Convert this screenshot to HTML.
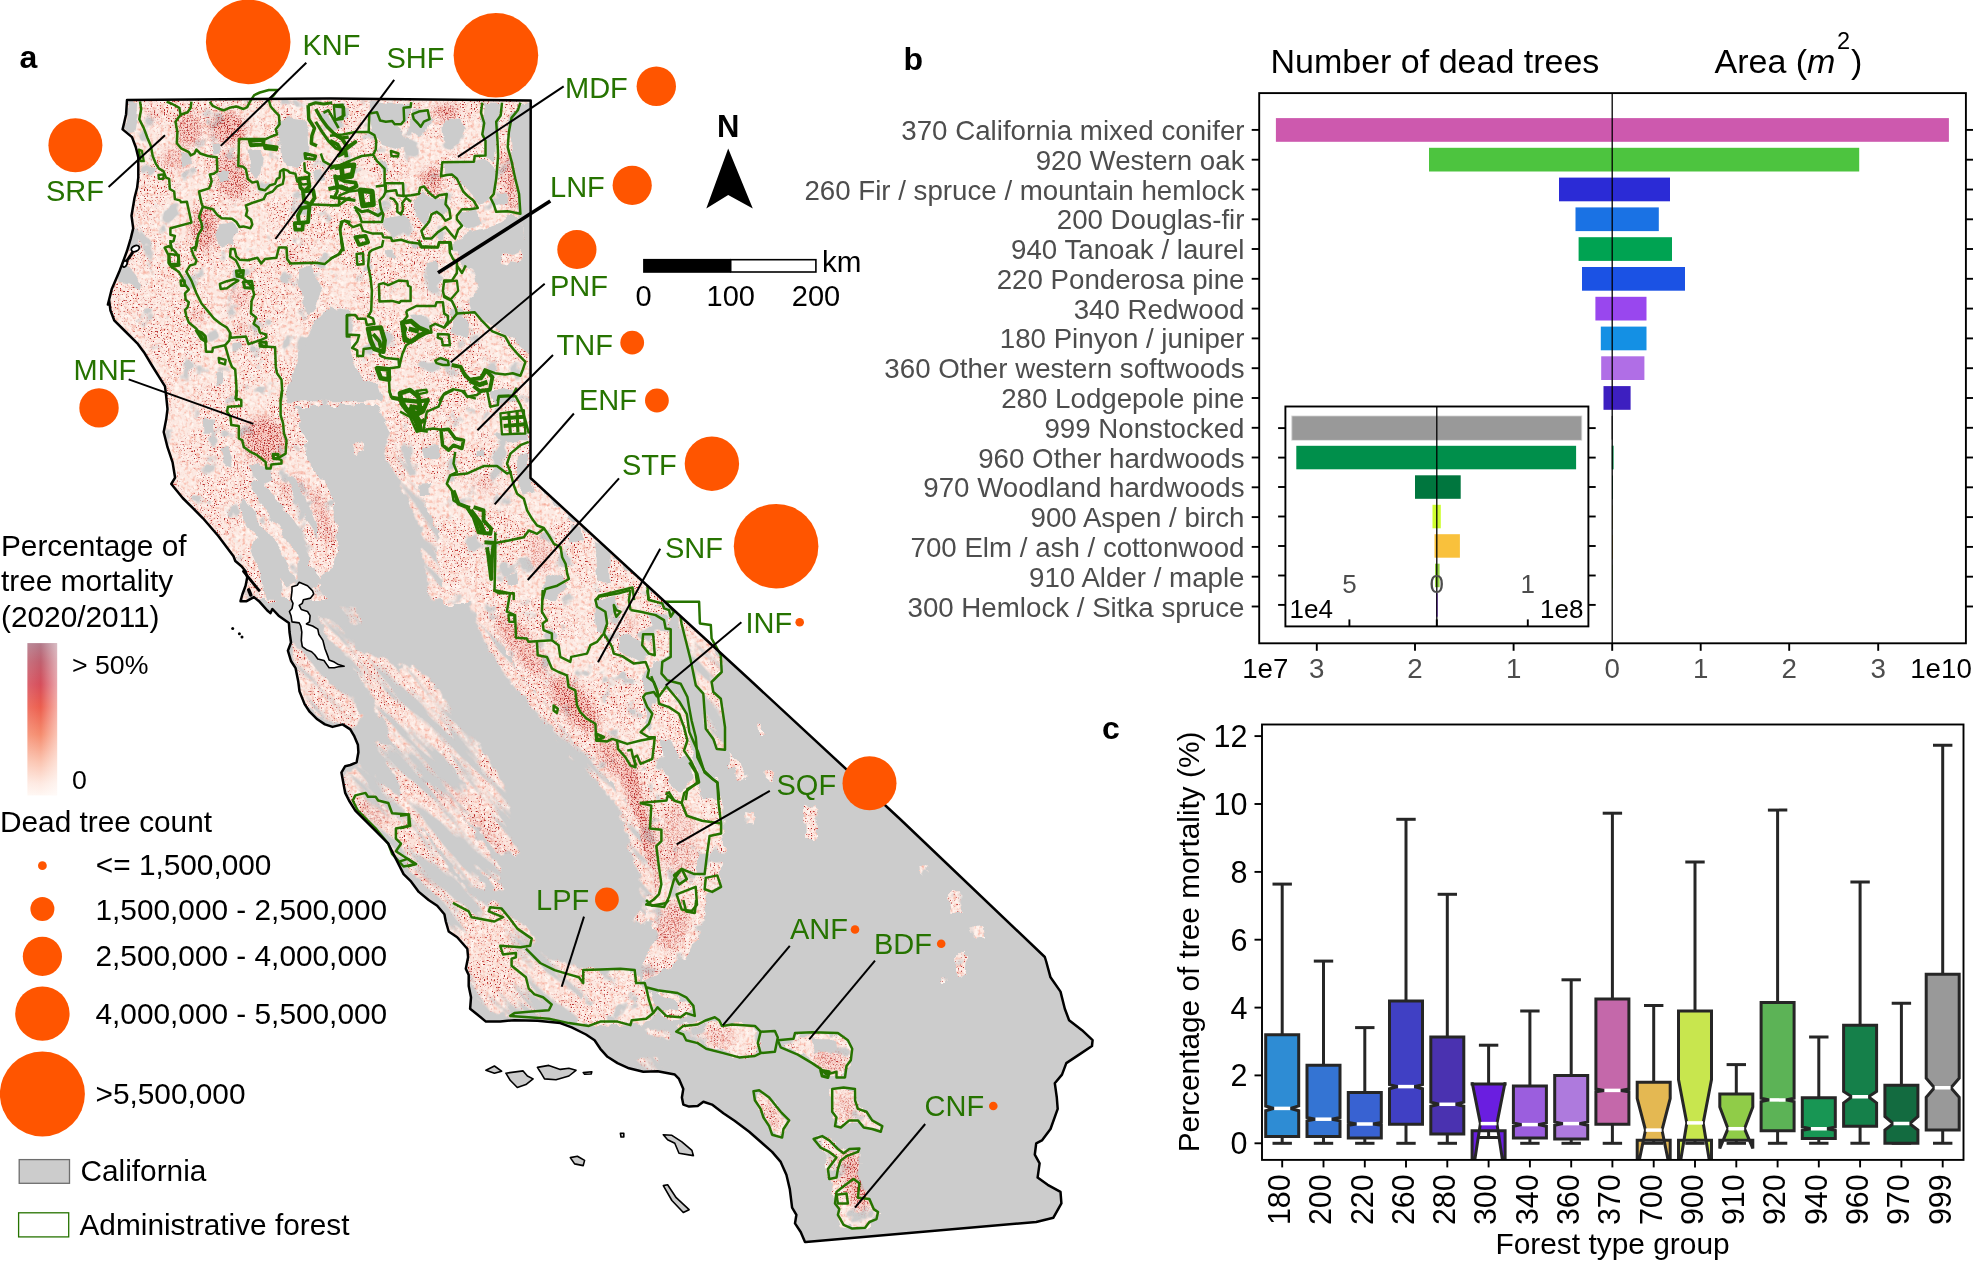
<!DOCTYPE html>
<html lang="en"><head><meta charset="utf-8"><title>Tree mortality in California</title>
<style>
html,body{margin:0;padding:0;background:#fff;}
svg{display:block;}
text{font-family:"Liberation Sans", Arial, Helvetica, sans-serif;}
.g{fill:#267300;font-size:29px;}
.lg{fill:#000;font-size:29.8px;}
.bt{fill:#4d4d4d;font-size:27.7px;}
.ct{fill:#000;font-size:30.5px;}
.ld{stroke:#000;stroke-width:2;fill:none;}
.ax{stroke:#000;stroke-width:1.9;fill:none;}
.fo{fill:none;stroke:#267300;stroke-width:2.5;stroke-linejoin:round;}
</style></head><body>
<svg width="1973" height="1261" viewBox="0 0 1973 1261">
<rect width="1973" height="1261" fill="#fff"/>

<defs>
<filter id="speck" x="90" y="80" width="1000" height="1180" filterUnits="userSpaceOnUse" color-interpolation-filters="sRGB">
<feTurbulence type="fractalNoise" baseFrequency="0.7" numOctaves="1" seed="7" result="n"/>
<feColorMatrix in="n" type="matrix" values="0 0 0 0 0.72  0 0 0 0 0.16  0 0 0 0 0.16  0 0 0 9 -5.5" result="s"/>
<feTurbulence type="fractalNoise" baseFrequency="0.025" numOctaves="3" seed="11" result="m"/>
<feColorMatrix in="m" type="matrix" values="0 0 0 0 1  0 0 0 0 1  0 0 0 0 1  0 0 0 5 -1.9" result="mm"/>
<feComposite in="s" in2="mm" operator="in" result="s2"/>
<feTurbulence type="fractalNoise" baseFrequency="0.28" numOctaves="2" seed="23" result="n3"/>
<feColorMatrix in="n3" type="matrix" values="0 0 0 0 0.96  0 0 0 0 0.62  0 0 0 0 0.54  0 0 0 2.0 -0.98" result="s3"/>
<feTurbulence type="fractalNoise" baseFrequency="0.2" numOctaves="2" seed="51" result="n4"/>
<feColorMatrix in="n4" type="matrix" values="0 0 0 0 1  0 0 0 0 0.97  0 0 0 0 0.95  0 0 0 3 -1.3" result="s4"/>
<feMerge result="all"><feMergeNode in="s4"/><feMergeNode in="s3"/><feMergeNode in="s2"/></feMerge>
<feComposite in="all" in2="SourceAlpha" operator="in" result="sp"/>
<feMerge><feMergeNode in="SourceGraphic"/><feMergeNode in="sp"/></feMerge>
</filter>
<filter id="rag" x="90" y="80" width="1000" height="1180" filterUnits="userSpaceOnUse">
<feTurbulence type="fractalNoise" baseFrequency="0.06" numOctaves="3" seed="5" result="t"/>
<feDisplacementMap in="SourceGraphic" in2="t" scale="9" xChannelSelector="R" yChannelSelector="G"/>
</filter>
<filter id="rag2" x="90" y="80" width="1000" height="1180" filterUnits="userSpaceOnUse">
<feTurbulence type="fractalNoise" baseFrequency="0.09" numOctaves="3" seed="17" result="t"/>
<feDisplacementMap in="SourceGraphic" in2="t" scale="11" xChannelSelector="R" yChannelSelector="G"/>
</filter>
<filter id="streak" x="-400" y="-400" width="2400" height="2400" filterUnits="userSpaceOnUse">
<feTurbulence type="fractalNoise" baseFrequency="0.011 0.075" numOctaves="3" seed="4" result="t"/>
<feColorMatrix in="t" type="matrix" values="0 0 0 0 0  0 0 0 0 0  0 0 0 0 0  0 0 0 7 -2.7" result="a"/>
<feComposite in="SourceGraphic" in2="a" operator="in"/>
</filter>
<filter id="mottle" x="90" y="80" width="1000" height="1180" filterUnits="userSpaceOnUse">
<feTurbulence type="fractalNoise" baseFrequency="0.045" numOctaves="3" seed="41" result="t"/>
<feColorMatrix in="t" type="matrix" values="0 0 0 0 0  0 0 0 0 0  0 0 0 0 0  0 0 0 9 -2.4" result="a"/>
<feComposite in="SourceGraphic" in2="a" operator="in"/>
</filter>
<filter id="hotf" x="90" y="80" width="1000" height="1180" filterUnits="userSpaceOnUse" color-interpolation-filters="sRGB">
<feGaussianBlur in="SourceGraphic" stdDeviation="4" result="b"/>
<feTurbulence type="fractalNoise" baseFrequency="0.7" numOctaves="2" seed="31" result="hn"/>
<feColorMatrix in="hn" type="matrix" values="0 0 0 0 0.70  0 0 0 0 0.16  0 0 0 0 0.16  0 0 0 6 -3.1" result="hs"/>
<feComposite in="hs" in2="b" operator="in"/>
</filter>
<filter id="blur2" x="-20%" y="-20%" width="140%" height="140%"><feGaussianBlur stdDeviation="3"/></filter>
<clipPath id="caclip"><path d="M127.0 100.0 L330.0 98.5 L530.7 100.5 L530.5 478.0 L664.0 601.0 L750.0 680.0 L900.0 819.0 L1044.8 957.0 L1046.2 961.5 L1050.5 977.3 L1060.5 991.6 L1064.8 1008.8 L1069.1 1020.2 L1082.0 1030.2 L1092.6 1040.2 L1092.0 1046.0 L1079.1 1054.6 L1066.3 1063.1 L1062.0 1074.6 L1054.8 1083.2 L1056.8 1097.5 L1057.7 1108.9 L1050.5 1129.0 L1041.9 1140.4 L1036.2 1143.3 L1034.8 1154.7 L1039.6 1163.3 L1037.6 1177.6 L1047.7 1184.8 L1060.5 1191.9 L1061.4 1203.4 L1053.4 1217.7 L1036.2 1222.0 L805.8 1242.0 L805.0 1242.0 L800.7 1232.0 L795.0 1223.4 L796.4 1214.8 L792.1 1207.7 L789.8 1189.1 L786.4 1174.8 L780.7 1161.9 L772.1 1151.9 L760.6 1141.8 L749.2 1131.8 L734.9 1121.0 L723.4 1113.2 L712.0 1104.6 L703.4 1101.8 L697.7 1106.1 L689.1 1106.6 L683.3 1104.6 L681.9 1097.5 L683.3 1088.9 L679.0 1078.9 L674.8 1074.6 L657.6 1071.2 L643.3 1071.7 L629.0 1068.3 L617.5 1063.1 L607.5 1056.8 L600.3 1048.8 L594.6 1040.2 L586.0 1034.5 L571.7 1027.4 L560.3 1023.1 L537.4 1020.8 L514.5 1020.2 L500.2 1021.4 L485.9 1021.6 L477.3 1014.5 L470.1 1008.8 L471.0 997.3 L468.7 985.9 L468.7 975.0 L465.8 968.7 L468.1 957.2 L467.3 948.7 L457.2 937.2 L448.7 931.5 L445.8 921.5 L444.4 914.3 L437.2 905.7 L428.6 900.0 L418.8 891.9 L411.2 881.7 L403.6 874.1 L395.9 858.9 L388.3 843.7 L373.1 828.4 L355.3 810.7 L349.0 800.5 L345.2 792.9 L341.4 772.6 L345.2 766.2 L350.3 765.0 L356.6 762.4 L358.4 752.3 L357.9 744.7 L354.1 735.8 L350.3 729.4 L342.6 724.4 L332.5 726.9 L324.9 724.4 L317.3 719.3 L309.6 711.7 L304.6 704.1 L299.5 691.4 L298.2 681.2 L298.2 681.2 L295.6 668.2 L291.0 661.0 L287.9 650.7 L291.0 642.5 L289.5 632.0 L288.9 622.9 L278.6 615.7 L272.4 609.0 L270.4 613.1 L267.3 610.5 L259.0 601.2 L253.9 597.1 L246.6 601.2 L240.5 601.2 L242.5 594.0 L245.6 585.8 L247.2 577.5 L245.6 571.3 L241.5 566.2 L235.3 561.0 L233.5 556.3 L218.3 536.0 L203.0 518.3 L192.9 508.1 L182.7 498.0 L171.3 484.0 L175.1 477.7 L172.6 462.4 L167.5 447.2 L163.7 432.0 L166.2 419.3 L167.5 409.1 L166.2 396.4 L165.0 386.3 L158.6 376.1 L152.3 366.0 L144.7 353.3 L137.1 343.1 L124.4 330.5 L114.2 320.3 L110.4 310.2 L109.1 300.0 L107.9 304.6 L111.7 289.3 L119.3 271.6 L126.9 251.3 L130.7 238.6 L133.2 228.4 L131.5 215.7 L134.5 198.0 L137.1 187.8 L138.3 177.7 L138.3 157.4 L135.8 147.2 L132.0 137.1 L122.6 129.4 L124.4 121.8 L126.1 114.2 Z"/></clipPath>
</defs>
<path d="M127.0 100.0 L330.0 98.5 L530.7 100.5 L530.5 478.0 L664.0 601.0 L750.0 680.0 L900.0 819.0 L1044.8 957.0 L1046.2 961.5 L1050.5 977.3 L1060.5 991.6 L1064.8 1008.8 L1069.1 1020.2 L1082.0 1030.2 L1092.6 1040.2 L1092.0 1046.0 L1079.1 1054.6 L1066.3 1063.1 L1062.0 1074.6 L1054.8 1083.2 L1056.8 1097.5 L1057.7 1108.9 L1050.5 1129.0 L1041.9 1140.4 L1036.2 1143.3 L1034.8 1154.7 L1039.6 1163.3 L1037.6 1177.6 L1047.7 1184.8 L1060.5 1191.9 L1061.4 1203.4 L1053.4 1217.7 L1036.2 1222.0 L805.8 1242.0 L805.0 1242.0 L800.7 1232.0 L795.0 1223.4 L796.4 1214.8 L792.1 1207.7 L789.8 1189.1 L786.4 1174.8 L780.7 1161.9 L772.1 1151.9 L760.6 1141.8 L749.2 1131.8 L734.9 1121.0 L723.4 1113.2 L712.0 1104.6 L703.4 1101.8 L697.7 1106.1 L689.1 1106.6 L683.3 1104.6 L681.9 1097.5 L683.3 1088.9 L679.0 1078.9 L674.8 1074.6 L657.6 1071.2 L643.3 1071.7 L629.0 1068.3 L617.5 1063.1 L607.5 1056.8 L600.3 1048.8 L594.6 1040.2 L586.0 1034.5 L571.7 1027.4 L560.3 1023.1 L537.4 1020.8 L514.5 1020.2 L500.2 1021.4 L485.9 1021.6 L477.3 1014.5 L470.1 1008.8 L471.0 997.3 L468.7 985.9 L468.7 975.0 L465.8 968.7 L468.1 957.2 L467.3 948.7 L457.2 937.2 L448.7 931.5 L445.8 921.5 L444.4 914.3 L437.2 905.7 L428.6 900.0 L418.8 891.9 L411.2 881.7 L403.6 874.1 L395.9 858.9 L388.3 843.7 L373.1 828.4 L355.3 810.7 L349.0 800.5 L345.2 792.9 L341.4 772.6 L345.2 766.2 L350.3 765.0 L356.6 762.4 L358.4 752.3 L357.9 744.7 L354.1 735.8 L350.3 729.4 L342.6 724.4 L332.5 726.9 L324.9 724.4 L317.3 719.3 L309.6 711.7 L304.6 704.1 L299.5 691.4 L298.2 681.2 L298.2 681.2 L295.6 668.2 L291.0 661.0 L287.9 650.7 L291.0 642.5 L289.5 632.0 L288.9 622.9 L278.6 615.7 L272.4 609.0 L270.4 613.1 L267.3 610.5 L259.0 601.2 L253.9 597.1 L246.6 601.2 L240.5 601.2 L242.5 594.0 L245.6 585.8 L247.2 577.5 L245.6 571.3 L241.5 566.2 L235.3 561.0 L233.5 556.3 L218.3 536.0 L203.0 518.3 L192.9 508.1 L182.7 498.0 L171.3 484.0 L175.1 477.7 L172.6 462.4 L167.5 447.2 L163.7 432.0 L166.2 419.3 L167.5 409.1 L166.2 396.4 L165.0 386.3 L158.6 376.1 L152.3 366.0 L144.7 353.3 L137.1 343.1 L124.4 330.5 L114.2 320.3 L110.4 310.2 L109.1 300.0 L107.9 304.6 L111.7 289.3 L119.3 271.6 L126.9 251.3 L130.7 238.6 L133.2 228.4 L131.5 215.7 L134.5 198.0 L137.1 187.8 L138.3 177.7 L138.3 157.4 L135.8 147.2 L132.0 137.1 L122.6 129.4 L124.4 121.8 L126.1 114.2 Z" fill="#cccccc"/>
<path d="M485.9 1070.3 L494.4 1066.0 L501.6 1071.2 L494.4 1073.2 Z" fill="#cccccc" stroke="#000" stroke-width="1.6" stroke-linejoin="round"/>
<path d="M505.9 1073.2 L523.1 1070.9 L527.4 1076.0 L533.1 1078.9 L525.9 1084.6 L517.3 1087.5 L510.2 1080.3 Z" fill="#cccccc" stroke="#000" stroke-width="1.6" stroke-linejoin="round"/>
<path d="M537.4 1067.4 L548.8 1065.4 L560.3 1069.4 L568.9 1068.3 L576.0 1070.3 L568.9 1076.0 L556.0 1079.7 L544.5 1078.9 L540.2 1071.7 Z" fill="#cccccc" stroke="#000" stroke-width="1.6" stroke-linejoin="round"/>
<path d="M583.2 1072.6 L591.8 1071.7 L591.2 1074.0 L584.6 1074.3 Z" fill="#cccccc" stroke="#000" stroke-width="1.6" stroke-linejoin="round"/>
<path d="M620.4 1133.3 L623.8 1133.3 L623.8 1137.0 L621.0 1137.0 Z" fill="#cccccc" stroke="#000" stroke-width="1.6" stroke-linejoin="round"/>
<path d="M570.3 1157.6 L577.4 1156.2 L584.6 1160.4 L583.2 1165.6 L574.6 1163.9 Z" fill="#cccccc" stroke="#000" stroke-width="1.6" stroke-linejoin="round"/>
<path d="M663.3 1134.7 L671.9 1135.3 L681.9 1141.8 L691.9 1150.4 L693.4 1155.6 L679.0 1153.3 L674.8 1143.3 L667.6 1139.8 Z" fill="#cccccc" stroke="#000" stroke-width="1.6" stroke-linejoin="round"/>
<path d="M663.3 1185.6 L667.6 1184.8 L676.2 1197.7 L689.1 1209.7 L683.3 1212.5 L671.9 1200.5 Z" fill="#cccccc" stroke="#000" stroke-width="1.6" stroke-linejoin="round"/>
<g clip-path="url(#caclip)">
<clipPath id="pkclip"><path d="M101.5 96.4 L533.0 96.4 L533.0 406.1 L101.5 406.1 Z M158.5 390.0 L297.4 390.0 L295.7 406.7 L300.7 423.5 L305.7 440.2 L307.4 460.2 L317.4 473.6 L330.8 490.4 L334.2 507.1 L335.8 528.8 L337.5 548.9 L334.2 565.6 L322.4 574.0 L317.4 582.3 L325.8 600.1 L233.8 600.1 L150.2 490.4 L150.2 390.0 Z M366.5 373.3 L533.8 373.3 L533.8 483.7 L567.3 513.8 L617.4 558.9 L667.6 604.1 L443.5 604.1 L440.1 574.0 L433.5 557.3 L438.5 540.5 L433.5 523.8 L426.8 507.1 L416.7 490.4 L406.7 470.3 L400.0 453.6 L390.0 433.5 L378.3 406.7 Z M480.0 590.0 L635.5 590.0 L647.3 600.0 L667.3 610.1 L670.7 631.8 L669.0 656.9 L660.6 661.9 L647.3 665.3 L653.9 683.7 L664.0 690.4 L680.7 697.0 L687.4 717.1 L690.7 740.5 L697.4 765.6 L697.4 782.3 L690.7 790.7 L689.1 800.1 L622.2 800.1 L613.8 782.3 L597.1 765.6 L573.7 740.5 L546.9 707.1 L521.8 677.0 L505.1 650.2 L490.0 623.5 L473.3 600.0 Z M615.7 775.1 L717.3 775.1 L722.3 803.0 L722.3 828.4 L724.9 853.8 L719.8 879.2 L704.6 904.6 L691.9 922.3 L643.7 922.3 L653.8 904.6 L653.8 879.2 L643.7 853.8 L638.6 828.4 L628.4 803.0 Z M804.8 805.6 L815.0 805.6 L816.2 841.1 L806.1 841.1 Z M765.5 772.6 L774.4 772.6 L774.4 778.9 L766.0 778.9 Z M745.2 813.2 L754.1 814.5 L752.8 823.4 L745.7 822.8 Z M727.4 752.3 L737.6 762.4 L745.2 777.7 L740.1 778.9 L729.9 765.0 Z M577.4 970.1 L583.2 968.7 L634.7 971.6 L646.1 991.6 L674.8 994.4 L691.9 1008.8 L686.2 1020.2 L657.6 1014.5 L646.1 1023.1 L600.3 1025.9 L577.4 1025.9 Z M646.1 894.3 L703.4 894.3 L703.4 928.6 L686.2 957.2 L657.6 974.4 L643.3 980.1 L640.4 968.7 L657.6 934.3 L651.9 917.2 Z M674.8 1025.9 L703.4 1020.2 L723.4 1023.1 L754.9 1025.9 L760.6 1043.1 L754.9 1054.6 L737.7 1057.4 L714.8 1048.8 L691.9 1040.2 Z M777.8 1037.4 L795.0 1034.5 L840.8 1034.5 L852.2 1048.8 L849.3 1066.0 L840.8 1077.4 L823.6 1071.7 L812.1 1060.3 L783.5 1046.0 Z M832.2 1088.9 L855.1 1088.9 L857.9 1106.1 L875.1 1120.4 L883.7 1129.0 L875.1 1131.8 L857.9 1123.2 L837.9 1126.1 L832.2 1111.8 Z M754.9 1091.8 L766.3 1094.6 L789.2 1120.4 L780.7 1137.6 L769.2 1129.0 L760.6 1108.9 Z M815.0 1137.6 L829.3 1137.6 L846.5 1151.9 L860.8 1149.0 L857.9 1174.8 L869.4 1200.5 L878.0 1214.8 L863.7 1229.1 L840.8 1226.3 L835.0 1203.4 L829.3 1171.9 L823.6 1151.9 Z M970.4 928.6 L984.7 925.8 L986.1 937.2 L973.2 938.6 Z M956.1 954.4 L966.1 951.5 L964.7 974.4 L956.6 975.0 Z M938.9 977.3 L947.5 976.7 L946.9 983.0 L939.5 983.0 Z M918.5 865.6 L927.0 865.6 L927.6 874.1 L919.0 874.7 Z M949.9 891.3 L961.3 891.3 L961.9 914.1 L951.3 914.1 Z M767.1 771.3 L773.4 771.3 L774.0 782.8 L767.7 782.8 Z M758.6 722.8 L763.7 722.8 L764.3 737.1 L759.1 737.1 Z"/></clipPath>
<g filter="url(#speck)"><g filter="url(#mottle)"><g filter="url(#rag2)">
<path d="M101.5 96.4 L533.0 96.4 L533.0 406.1 L101.5 406.1 Z M158.5 390.0 L297.4 390.0 L295.7 406.7 L300.7 423.5 L305.7 440.2 L307.4 460.2 L317.4 473.6 L330.8 490.4 L334.2 507.1 L335.8 528.8 L337.5 548.9 L334.2 565.6 L322.4 574.0 L317.4 582.3 L325.8 600.1 L233.8 600.1 L150.2 490.4 L150.2 390.0 Z M366.5 373.3 L533.8 373.3 L533.8 483.7 L567.3 513.8 L617.4 558.9 L667.6 604.1 L443.5 604.1 L440.1 574.0 L433.5 557.3 L438.5 540.5 L433.5 523.8 L426.8 507.1 L416.7 490.4 L406.7 470.3 L400.0 453.6 L390.0 433.5 L378.3 406.7 Z M480.0 590.0 L635.5 590.0 L647.3 600.0 L667.3 610.1 L670.7 631.8 L669.0 656.9 L660.6 661.9 L647.3 665.3 L653.9 683.7 L664.0 690.4 L680.7 697.0 L687.4 717.1 L690.7 740.5 L697.4 765.6 L697.4 782.3 L690.7 790.7 L689.1 800.1 L622.2 800.1 L613.8 782.3 L597.1 765.6 L573.7 740.5 L546.9 707.1 L521.8 677.0 L505.1 650.2 L490.0 623.5 L473.3 600.0 Z M615.7 775.1 L717.3 775.1 L722.3 803.0 L722.3 828.4 L724.9 853.8 L719.8 879.2 L704.6 904.6 L691.9 922.3 L643.7 922.3 L653.8 904.6 L653.8 879.2 L643.7 853.8 L638.6 828.4 L628.4 803.0 Z M804.8 805.6 L815.0 805.6 L816.2 841.1 L806.1 841.1 Z M765.5 772.6 L774.4 772.6 L774.4 778.9 L766.0 778.9 Z M745.2 813.2 L754.1 814.5 L752.8 823.4 L745.7 822.8 Z M727.4 752.3 L737.6 762.4 L745.2 777.7 L740.1 778.9 L729.9 765.0 Z M577.4 970.1 L583.2 968.7 L634.7 971.6 L646.1 991.6 L674.8 994.4 L691.9 1008.8 L686.2 1020.2 L657.6 1014.5 L646.1 1023.1 L600.3 1025.9 L577.4 1025.9 Z M646.1 894.3 L703.4 894.3 L703.4 928.6 L686.2 957.2 L657.6 974.4 L643.3 980.1 L640.4 968.7 L657.6 934.3 L651.9 917.2 Z M674.8 1025.9 L703.4 1020.2 L723.4 1023.1 L754.9 1025.9 L760.6 1043.1 L754.9 1054.6 L737.7 1057.4 L714.8 1048.8 L691.9 1040.2 Z M777.8 1037.4 L795.0 1034.5 L840.8 1034.5 L852.2 1048.8 L849.3 1066.0 L840.8 1077.4 L823.6 1071.7 L812.1 1060.3 L783.5 1046.0 Z M832.2 1088.9 L855.1 1088.9 L857.9 1106.1 L875.1 1120.4 L883.7 1129.0 L875.1 1131.8 L857.9 1123.2 L837.9 1126.1 L832.2 1111.8 Z M754.9 1091.8 L766.3 1094.6 L789.2 1120.4 L780.7 1137.6 L769.2 1129.0 L760.6 1108.9 Z M815.0 1137.6 L829.3 1137.6 L846.5 1151.9 L860.8 1149.0 L857.9 1174.8 L869.4 1200.5 L878.0 1214.8 L863.7 1229.1 L840.8 1226.3 L835.0 1203.4 L829.3 1171.9 L823.6 1151.9 Z M970.4 928.6 L984.7 925.8 L986.1 937.2 L973.2 938.6 Z M956.1 954.4 L966.1 951.5 L964.7 974.4 L956.6 975.0 Z M938.9 977.3 L947.5 976.7 L946.9 983.0 L939.5 983.0 Z M918.5 865.6 L927.0 865.6 L927.6 874.1 L919.0 874.7 Z M949.9 891.3 L961.3 891.3 L961.9 914.1 L951.3 914.1 Z M767.1 771.3 L773.4 771.3 L774.0 782.8 L767.7 782.8 Z M758.6 722.8 L763.7 722.8 L764.3 737.1 L759.1 737.1 Z" fill="#fce9e2" fill-rule="nonzero"/>
</g></g></g>
<g clip-path="url(#pkclip)">
<g filter="url(#blur2)" opacity="0.45">
<ellipse cx="188.8" cy="129.3" rx="12.7" ry="16.5" transform="rotate(0 188.8 129.3)" fill="#e8746a" opacity="0.45"/>
<ellipse cx="228.2" cy="128.1" rx="17.8" ry="15.2" transform="rotate(20 228.2 128.1)" fill="#e8746a" opacity="0.6"/>
<ellipse cx="176.1" cy="158.5" rx="14.0" ry="11.4" transform="rotate(0 176.1 158.5)" fill="#e8746a" opacity="0.32"/>
<ellipse cx="232.0" cy="176.3" rx="15.2" ry="22.8" transform="rotate(-20 232.0 176.3)" fill="#e8746a" opacity="0.45"/>
<ellipse cx="204.1" cy="228.3" rx="11.4" ry="21.6" transform="rotate(0 204.1 228.3)" fill="#e8746a" opacity="0.6"/>
<ellipse cx="154.6" cy="115.4" rx="6.3" ry="7.6" transform="rotate(0 154.6 115.4)" fill="#e8746a" opacity="0.15"/>
<ellipse cx="445.5" cy="112.2" rx="11.4" ry="7.6" transform="rotate(0 445.5 112.2)" fill="#e8746a" opacity="0.6"/>
<ellipse cx="431.5" cy="177.6" rx="10.2" ry="8.2" transform="rotate(0 431.5 177.6)" fill="#e8746a" opacity="0.6"/>
<ellipse cx="434.1" cy="191.5" rx="5.7" ry="5.1" transform="rotate(0 434.1 191.5)" fill="#e8746a" opacity="0.45"/>
<ellipse cx="510.2" cy="181.4" rx="5.7" ry="30.5" transform="rotate(-8 510.2 181.4)" fill="#e8746a" opacity="0.55"/>
<ellipse cx="239.6" cy="297.1" rx="10.2" ry="10.2" transform="rotate(0 239.6 297.1)" fill="#e8746a" opacity="0.22"/>
<ellipse cx="196.4" cy="316.1" rx="7.6" ry="7.6" transform="rotate(0 196.4 316.1)" fill="#e8746a" opacity="0.2"/>
<ellipse cx="290.4" cy="259.0" rx="6.3" ry="6.3" transform="rotate(0 290.4 259.0)" fill="#e8746a" opacity="0.25"/>
<ellipse cx="242.1" cy="328.8" rx="7.6" ry="6.3" transform="rotate(0 242.1 328.8)" fill="#e8746a" opacity="0.2"/>
<ellipse cx="263.9" cy="440.2" rx="20.1" ry="23.4" transform="rotate(-20 263.9 440.2)" fill="#e8746a" opacity="0.55"/>
<ellipse cx="322.4" cy="517.1" rx="4.2" ry="28.4" transform="rotate(-18 322.4 517.1)" fill="#e8746a" opacity="0.5"/>
<ellipse cx="287.3" cy="490.4" rx="6.7" ry="8.4" transform="rotate(0 287.3 490.4)" fill="#e8746a" opacity="0.25"/>
<ellipse cx="300.7" cy="483.7" rx="3.3" ry="13.4" transform="rotate(-25 300.7 483.7)" fill="#e8746a" opacity="0.3"/>
<ellipse cx="540.5" cy="555.6" rx="10.0" ry="20.1" transform="rotate(-20 540.5 555.6)" fill="#e8746a" opacity="0.28"/>
<ellipse cx="483.6" cy="483.7" rx="8.4" ry="10.0" transform="rotate(0 483.6 483.7)" fill="#e8746a" opacity="0.18"/>
<ellipse cx="521.8" cy="645.2" rx="11.7" ry="36.8" transform="rotate(-38 521.8 645.2)" fill="#e8746a" opacity="0.4"/>
<ellipse cx="573.7" cy="703.7" rx="13.4" ry="33.5" transform="rotate(-40 573.7 703.7)" fill="#e8746a" opacity="0.6"/>
<ellipse cx="617.1" cy="762.3" rx="11.7" ry="33.5" transform="rotate(-35 617.1 762.3)" fill="#e8746a" opacity="0.45"/>
<ellipse cx="630.5" cy="623.5" rx="5.0" ry="10.0" transform="rotate(0 630.5 623.5)" fill="#e8746a" opacity="0.2"/>
<ellipse cx="636.0" cy="803.0" rx="7.6" ry="38.1" transform="rotate(-12 636.0 803.0)" fill="#e8746a" opacity="0.6"/>
<ellipse cx="648.7" cy="853.8" rx="7.6" ry="43.1" transform="rotate(-5 648.7 853.8)" fill="#e8746a" opacity="0.55"/>
<ellipse cx="679.2" cy="841.1" rx="17.8" ry="38.1" transform="rotate(0 679.2 841.1)" fill="#e8746a" opacity="0.2"/>
<ellipse cx="855.1" cy="1180.5" rx="10.0" ry="31.5" transform="rotate(-15 855.1 1180.5)" fill="#e8746a" opacity="0.6"/>
<ellipse cx="829.3" cy="1060.3" rx="17.2" ry="10.0" transform="rotate(20 829.3 1060.3)" fill="#e8746a" opacity="0.35"/>
<ellipse cx="671.9" cy="925.8" rx="14.3" ry="22.9" transform="rotate(15 671.9 925.8)" fill="#e8746a" opacity="0.35"/>
<ellipse cx="720.5" cy="1037.4" rx="14.3" ry="8.6" transform="rotate(10 720.5 1037.4)" fill="#e8746a" opacity="0.25"/>
<ellipse cx="772.1" cy="1114.7" rx="5.7" ry="14.3" transform="rotate(-30 772.1 1114.7)" fill="#e8746a" opacity="0.25"/>
<ellipse cx="846.5" cy="1106.1" rx="7.2" ry="12.9" transform="rotate(-20 846.5 1106.1)" fill="#e8746a" opacity="0.3"/>
<ellipse cx="649.0" cy="977.3" rx="7.2" ry="11.4" transform="rotate(0 649.0 977.3)" fill="#e8746a" opacity="0.3"/>
</g>
<g filter="url(#hotf)">
<ellipse cx="188.8" cy="129.3" rx="12.7" ry="16.5" transform="rotate(0 188.8 129.3)" fill="#000" opacity="0.77"/>
<ellipse cx="228.2" cy="128.1" rx="17.8" ry="15.2" transform="rotate(20 228.2 128.1)" fill="#000" opacity="1.00"/>
<ellipse cx="176.1" cy="158.5" rx="14.0" ry="11.4" transform="rotate(0 176.1 158.5)" fill="#000" opacity="0.54"/>
<ellipse cx="232.0" cy="176.3" rx="15.2" ry="22.8" transform="rotate(-20 232.0 176.3)" fill="#000" opacity="0.77"/>
<ellipse cx="204.1" cy="228.3" rx="11.4" ry="21.6" transform="rotate(0 204.1 228.3)" fill="#000" opacity="1.00"/>
<ellipse cx="154.6" cy="115.4" rx="6.3" ry="7.6" transform="rotate(0 154.6 115.4)" fill="#000" opacity="0.26"/>
<ellipse cx="445.5" cy="112.2" rx="11.4" ry="7.6" transform="rotate(0 445.5 112.2)" fill="#000" opacity="1.00"/>
<ellipse cx="431.5" cy="177.6" rx="10.2" ry="8.2" transform="rotate(0 431.5 177.6)" fill="#000" opacity="1.00"/>
<ellipse cx="434.1" cy="191.5" rx="5.7" ry="5.1" transform="rotate(0 434.1 191.5)" fill="#000" opacity="0.77"/>
<ellipse cx="510.2" cy="181.4" rx="5.7" ry="30.5" transform="rotate(-8 510.2 181.4)" fill="#000" opacity="0.94"/>
<ellipse cx="239.6" cy="297.1" rx="10.2" ry="10.2" transform="rotate(0 239.6 297.1)" fill="#000" opacity="0.37"/>
<ellipse cx="196.4" cy="316.1" rx="7.6" ry="7.6" transform="rotate(0 196.4 316.1)" fill="#000" opacity="0.34"/>
<ellipse cx="290.4" cy="259.0" rx="6.3" ry="6.3" transform="rotate(0 290.4 259.0)" fill="#000" opacity="0.42"/>
<ellipse cx="242.1" cy="328.8" rx="7.6" ry="6.3" transform="rotate(0 242.1 328.8)" fill="#000" opacity="0.34"/>
<ellipse cx="263.9" cy="440.2" rx="20.1" ry="23.4" transform="rotate(-20 263.9 440.2)" fill="#000" opacity="0.94"/>
<ellipse cx="322.4" cy="517.1" rx="4.2" ry="28.4" transform="rotate(-18 322.4 517.1)" fill="#000" opacity="0.85"/>
<ellipse cx="287.3" cy="490.4" rx="6.7" ry="8.4" transform="rotate(0 287.3 490.4)" fill="#000" opacity="0.42"/>
<ellipse cx="300.7" cy="483.7" rx="3.3" ry="13.4" transform="rotate(-25 300.7 483.7)" fill="#000" opacity="0.51"/>
<ellipse cx="540.5" cy="555.6" rx="10.0" ry="20.1" transform="rotate(-20 540.5 555.6)" fill="#000" opacity="0.48"/>
<ellipse cx="483.6" cy="483.7" rx="8.4" ry="10.0" transform="rotate(0 483.6 483.7)" fill="#000" opacity="0.31"/>
<ellipse cx="521.8" cy="645.2" rx="11.7" ry="36.8" transform="rotate(-38 521.8 645.2)" fill="#000" opacity="0.68"/>
<ellipse cx="573.7" cy="703.7" rx="13.4" ry="33.5" transform="rotate(-40 573.7 703.7)" fill="#000" opacity="1.00"/>
<ellipse cx="617.1" cy="762.3" rx="11.7" ry="33.5" transform="rotate(-35 617.1 762.3)" fill="#000" opacity="0.77"/>
<ellipse cx="630.5" cy="623.5" rx="5.0" ry="10.0" transform="rotate(0 630.5 623.5)" fill="#000" opacity="0.34"/>
<ellipse cx="636.0" cy="803.0" rx="7.6" ry="38.1" transform="rotate(-12 636.0 803.0)" fill="#000" opacity="1.00"/>
<ellipse cx="648.7" cy="853.8" rx="7.6" ry="43.1" transform="rotate(-5 648.7 853.8)" fill="#000" opacity="0.94"/>
<ellipse cx="679.2" cy="841.1" rx="17.8" ry="38.1" transform="rotate(0 679.2 841.1)" fill="#000" opacity="0.34"/>
<ellipse cx="855.1" cy="1180.5" rx="10.0" ry="31.5" transform="rotate(-15 855.1 1180.5)" fill="#000" opacity="1.00"/>
<ellipse cx="829.3" cy="1060.3" rx="17.2" ry="10.0" transform="rotate(20 829.3 1060.3)" fill="#000" opacity="0.59"/>
<ellipse cx="671.9" cy="925.8" rx="14.3" ry="22.9" transform="rotate(15 671.9 925.8)" fill="#000" opacity="0.59"/>
<ellipse cx="720.5" cy="1037.4" rx="14.3" ry="8.6" transform="rotate(10 720.5 1037.4)" fill="#000" opacity="0.42"/>
<ellipse cx="772.1" cy="1114.7" rx="5.7" ry="14.3" transform="rotate(-30 772.1 1114.7)" fill="#000" opacity="0.42"/>
<ellipse cx="846.5" cy="1106.1" rx="7.2" ry="12.9" transform="rotate(-20 846.5 1106.1)" fill="#000" opacity="0.51"/>
<ellipse cx="649.0" cy="977.3" rx="7.2" ry="11.4" transform="rotate(0 649.0 977.3)" fill="#000" opacity="0.51"/>
</g></g>
<g filter="url(#rag)">
<path d="M127.3 102.1 L138.1 102.1 L137.4 115.4 L134.3 131.9 L128.6 133.1 L124.1 128.1 Z M277.7 121.7 L290.4 117.9 L303.0 120.5 L308.1 131.9 L309.4 147.1 L303.0 161.1 L298.0 168.7 L287.8 166.1 L282.7 158.5 L280.2 143.3 L276.4 133.1 Z M248.5 149.6 L259.9 148.4 L263.7 158.5 L261.2 172.5 L256.1 178.8 L251.0 171.2 L249.7 161.1 Z M211.7 143.3 L219.3 142.0 L219.9 153.5 L214.2 154.7 Z M178.7 153.5 L187.6 152.2 L190.1 163.6 L182.5 167.4 Z M218.0 173.8 L228.2 173.1 L228.2 181.4 L219.3 182.0 Z M218.0 224.5 L232.0 222.0 L237.1 232.1 L232.0 244.8 L221.8 247.4 L215.5 235.9 Z M314.5 171.2 L323.4 169.9 L324.6 180.1 L315.7 182.0 Z M334.8 106.5 L347.5 105.9 L348.1 117.9 L336.0 118.6 Z M129.2 229.6 L138.1 228.3 L141.9 239.7 L139.3 250.0 L127.9 250.0 Z M369.3 102.7 L411.2 102.7 L411.2 110.3 L404.2 123.0 L393.5 124.9 L401.1 131.9 L408.7 143.3 L401.1 149.0 L390.9 145.8 L383.3 143.3 L377.0 138.2 L370.6 131.9 L368.1 121.7 Z M412.5 110.3 L429.0 109.0 L431.5 120.5 L426.4 131.9 L418.8 138.2 L411.2 131.9 L408.7 123.0 Z M444.2 121.7 L458.2 119.2 L464.5 128.1 L456.9 143.3 L449.3 149.6 L441.7 140.8 L440.4 130.6 Z M484.2 102.7 L501.3 102.7 L498.8 121.7 L496.2 140.8 L495.0 161.1 L486.1 156.0 L482.3 133.1 L482.9 115.4 Z M520.4 102.7 L533.0 102.7 L533.0 250.0 L522.9 250.0 L520.4 211.8 L516.5 178.8 L511.5 147.1 L510.2 121.7 L512.7 112.8 Z M444.2 163.6 L474.7 162.3 L486.1 159.2 L495.0 166.1 L495.0 186.4 L489.9 199.1 L479.7 204.2 L469.6 194.1 L462.0 183.9 L455.6 176.3 L446.8 173.8 L441.7 171.2 Z M380.8 161.1 L387.1 161.7 L387.7 171.2 L381.4 171.2 Z M416.3 197.9 L423.9 191.5 L431.5 197.9 L444.2 196.6 L448.0 208.0 L441.7 216.9 L431.5 211.8 L423.9 224.5 L416.3 216.9 L412.5 206.8 Z M385.8 218.2 L401.1 215.6 L411.2 222.0 L406.1 232.1 L390.9 233.4 L384.6 227.1 Z M460.7 211.8 L475.9 209.3 L479.7 223.2 L469.6 229.6 L462.0 224.5 Z M451.8 242.3 L469.6 232.1 L488.6 227.1 L507.7 216.9 L520.4 216.9 L522.9 251.2 L451.8 251.2 Z M497.5 195.3 L505.8 195.3 L505.8 204.8 L498.1 204.2 Z M332.5 104.0 L344.0 103.3 L344.6 112.8 L337.6 120.5 L332.5 115.4 Z M125.4 264.1 L134.3 275.5 L142.5 283.1 L141.9 290.1 L130.5 283.8 L117.8 281.9 L116.5 276.8 Z M298.0 269.2 L310.7 265.4 L318.3 278.1 L320.8 293.3 L315.7 306.0 L309.4 316.1 L301.8 300.9 L298.0 284.4 Z M315.7 321.2 L325.9 311.1 L338.6 308.5 L350.6 311.1 L350.6 401.2 L286.5 401.2 L290.4 379.6 L298.0 354.2 L308.1 336.4 Z M215.5 374.5 L223.1 373.2 L225.0 384.7 L218.0 385.9 Z M232.0 344.1 L238.3 343.4 L239.0 350.4 L232.6 350.4 Z M330.0 306.0 L340.2 316.1 L347.8 341.5 L355.4 366.9 L363.0 379.6 L378.2 385.9 L383.3 401.2 L330.0 401.2 Z M456.9 240.0 L533.0 240.0 L533.0 354.2 L525.4 351.7 L510.2 336.4 L495.0 328.8 L482.3 318.7 L469.6 311.1 L467.1 300.9 L479.7 288.2 L475.9 271.7 L462.0 265.4 L456.9 252.7 Z M451.8 321.2 L464.5 317.4 L470.9 326.3 L467.1 336.4 L455.6 337.7 L450.6 331.4 Z M411.2 314.9 L421.4 313.6 L429.0 321.2 L426.4 328.8 L416.3 327.6 Z M385.8 250.2 L393.5 249.5 L394.1 256.5 L386.5 256.5 Z M426.4 262.8 L436.6 261.6 L437.9 281.9 L429.0 281.9 Z M248.9 465.3 L260.6 461.9 L268.9 470.3 L273.9 480.3 L263.9 483.7 L253.9 477.0 Z M203.7 420.1 L213.7 419.3 L214.6 431.8 L204.5 431.8 Z M220.4 448.5 L227.1 445.2 L233.8 461.9 L230.5 468.6 L223.8 461.9 Z M250.5 483.7 L260.6 480.3 L284.0 507.1 L300.7 532.2 L310.7 557.3 L304.0 567.3 L292.3 548.9 L275.6 523.8 L258.9 503.7 Z M242.2 497.0 L250.5 507.1 L267.3 532.2 L284.0 557.3 L297.4 582.3 L287.3 587.4 L270.6 560.6 L253.9 533.8 L240.5 510.4 Z M255.5 537.2 L267.3 550.6 L280.6 574.0 L284.0 600.7 L267.3 600.7 L260.6 574.0 L250.5 550.6 Z M284.0 477.0 L294.0 480.3 L305.7 497.0 L315.8 523.8 L317.4 537.2 L307.4 523.8 L295.7 500.4 Z M297.4 557.3 L314.1 567.3 L320.8 582.3 L309.1 590.7 L297.4 577.3 Z M517.1 456.9 L528.8 453.6 L529.6 477.0 L533.8 490.4 L523.8 493.7 L517.1 477.0 Z M490.3 390.0 L513.7 390.0 L515.4 400.0 L493.7 405.1 Z M495.3 433.5 L527.1 431.8 L527.9 440.2 L500.4 440.2 Z M421.7 446.9 L438.5 446.0 L439.3 456.9 L422.6 456.9 Z M420.1 483.7 L430.1 482.8 L430.9 497.0 L420.9 497.0 Z M473.6 450.2 L483.6 449.4 L484.5 456.9 L474.4 456.9 Z M568.9 523.8 L580.6 527.1 L582.3 540.5 L570.6 538.9 Z M594.0 540.5 L609.1 543.9 L610.7 582.3 L597.4 580.7 Z M543.8 579.0 L560.6 574.0 L567.3 587.4 L557.2 600.1 L542.2 600.1 Z M507.0 574.0 L517.1 572.3 L517.9 584.0 L507.9 584.0 Z M597.1 600.0 L613.8 596.7 L618.8 606.7 L607.1 620.1 L605.4 633.5 L597.1 631.8 L595.4 615.1 Z M618.8 638.5 L630.5 635.2 L640.6 640.2 L647.3 656.9 L640.6 663.6 L627.2 656.9 L618.8 648.5 Z M647.3 666.9 L657.3 683.7 L655.6 697.0 L652.3 707.1 L653.9 723.8 L648.9 732.2 L643.9 707.1 L645.6 690.4 L640.6 677.0 Z M647.3 611.7 L667.3 613.4 L669.0 631.8 L653.9 630.1 Z M670.7 615.1 L682.4 620.1 L689.1 656.9 L695.8 690.4 L702.4 723.8 L707.5 757.3 L717.5 782.3 L719.2 800.1 L700.8 800.1 L697.4 774.0 L692.4 740.5 L687.4 707.1 L680.7 683.7 L672.3 673.6 L662.3 670.3 L661.5 663.6 L670.7 656.9 Z M660.6 737.2 L674.0 740.5 L680.7 765.6 L677.4 782.3 L664.0 774.0 Z M324.9 699.0 L340.1 701.5 L341.4 711.7 L326.1 709.1 Z M669.0 762.4 L686.8 752.3 L691.9 777.7 L679.2 792.9 L669.0 782.7 Z M697.0 853.8 L707.1 853.8 L705.8 876.6 L697.0 874.1 Z M534.5 971.6 L560.3 977.3 L583.2 991.6 L577.4 1008.8 L554.6 1003.0 L537.4 991.6 Z M651.9 994.4 L674.8 998.7 L677.6 1011.6 L657.6 1008.8 Z M812.1 1040.2 L835.0 1040.2 L836.5 1051.7 L815.0 1051.7 Z" fill="#cccccc"/>
</g>
<g filter="url(#speck)"><g transform="rotate(47 500 700)" filter="url(#streak)"><g transform="rotate(-47 500 700)"><g filter="url(#rag2)">
<path d="M669.0 600.0 L699.1 601.7 L700.8 623.5 L710.8 625.1 L712.5 640.2 L720.8 656.9 L720.8 673.6 L712.5 683.7 L714.2 693.7 L720.8 700.4 L724.2 727.1 L724.2 748.9 L717.5 748.9 L712.5 737.2 L705.8 727.1 L702.4 693.7 L695.8 683.7 L690.7 660.2 L685.7 640.2 L680.7 623.5 Z M291.9 643.1 L304.6 650.8 L327.4 681.2 L355.3 701.5 L362.9 719.3 L350.3 726.9 L332.5 721.8 L317.3 714.2 L304.6 701.5 L298.2 676.1 Z M317.3 615.2 L337.6 622.8 L360.4 650.8 L395.9 666.0 L413.7 696.4 L416.2 716.8 L436.5 742.1 L451.8 777.7 L482.2 803.0 L500.0 818.3 L520.3 853.8 L500.0 853.8 L477.2 828.4 L451.8 808.1 L431.5 777.7 L406.1 762.4 L390.9 737.1 L375.6 709.1 L365.5 683.8 L350.3 663.5 L329.9 638.1 Z M342.6 775.1 L360.4 765.0 L375.6 777.7 L395.9 792.9 L411.2 813.2 L431.5 843.7 L456.9 879.2 L482.2 904.6 L500.0 920.1 L451.8 920.1 L431.5 891.9 L406.1 864.0 L380.7 841.1 L360.4 815.7 L347.7 798.0 Z M375.6 742.1 L395.9 747.2 L421.3 777.7 L451.8 803.0 L482.2 843.7 L500.0 866.5 L500.0 891.9 L477.2 866.5 L446.7 828.4 L416.2 798.0 L390.9 772.6 Z M337.6 605.1 L355.3 607.6 L362.9 625.4 L350.3 622.8 Z M291.9 663.5 L304.6 683.8 L312.2 706.6 L302.0 701.5 L294.4 683.8 Z M400.0 663.5 L420.3 671.1 L450.8 706.6 L488.8 757.4 L509.1 798.0 L511.7 853.8 L496.4 853.8 L476.1 803.0 L445.7 757.4 L415.2 714.2 L400.0 701.5 Z M400.0 772.6 L425.4 787.8 L455.8 828.4 L476.1 864.0 L483.8 891.9 L463.5 879.2 L435.5 843.7 L410.2 813.2 L400.0 803.0 Z M428.6 894.3 L494.4 902.9 L525.9 928.6 L543.1 954.4 L571.7 965.8 L583.2 968.7 L583.2 1025.9 L534.5 1020.2 L508.8 1020.2 L480.1 997.3 L457.2 965.8 L440.1 934.3 Z M471.6 965.8 L525.9 985.9 L548.8 1003.0 L531.7 1014.5 L508.8 1017.3 L480.1 1008.8 L468.7 985.9 Z M442.9 925.8 L471.6 957.2 L485.9 994.4 L471.6 994.4 L448.7 963.0 L437.2 934.3 Z M629.0 1060.3 L657.6 1057.4 L663.3 1068.9 L634.7 1071.7 Z M646.1 1028.8 L671.9 1031.7 L669.0 1040.2 L649.0 1037.4 Z M470.0 583.3 L480.0 590.0 L490.0 623.5 L505.1 650.2 L521.8 677.0 L546.9 707.1 L573.7 740.5 L597.1 765.6 L613.8 782.3 L622.2 800.1 L610.5 800.1 L597.1 782.3 L580.4 763.9 L556.9 737.2 L530.2 705.4 L505.1 673.6 L486.7 645.2 L473.3 615.1 Z M390.0 433.5 L400.0 453.6 L406.7 470.3 L416.7 490.4 L426.8 507.1 L433.5 523.8 L438.5 540.5 L433.5 557.3 L440.1 574.0 L443.5 600.1 L431.8 600.1 L426.8 574.0 L421.7 557.3 L425.1 540.5 L418.4 523.8 L411.7 507.1 L403.3 490.4 L393.3 470.3 L383.3 453.6 Z M608.1 775.1 L615.7 775.1 L628.4 803.0 L638.6 828.4 L643.7 853.8 L653.8 879.2 L653.8 904.6 L643.7 922.3 L633.5 922.3 L641.1 904.6 L641.1 879.2 L632.2 853.8 L625.9 828.4 L615.7 803.0 Z" fill="#fbe3db"/>
</g></g></g></g>
<clipPath id="pksclip"><path d="M669.0 600.0 L699.1 601.7 L700.8 623.5 L710.8 625.1 L712.5 640.2 L720.8 656.9 L720.8 673.6 L712.5 683.7 L714.2 693.7 L720.8 700.4 L724.2 727.1 L724.2 748.9 L717.5 748.9 L712.5 737.2 L705.8 727.1 L702.4 693.7 L695.8 683.7 L690.7 660.2 L685.7 640.2 L680.7 623.5 Z M291.9 643.1 L304.6 650.8 L327.4 681.2 L355.3 701.5 L362.9 719.3 L350.3 726.9 L332.5 721.8 L317.3 714.2 L304.6 701.5 L298.2 676.1 Z M317.3 615.2 L337.6 622.8 L360.4 650.8 L395.9 666.0 L413.7 696.4 L416.2 716.8 L436.5 742.1 L451.8 777.7 L482.2 803.0 L500.0 818.3 L520.3 853.8 L500.0 853.8 L477.2 828.4 L451.8 808.1 L431.5 777.7 L406.1 762.4 L390.9 737.1 L375.6 709.1 L365.5 683.8 L350.3 663.5 L329.9 638.1 Z M342.6 775.1 L360.4 765.0 L375.6 777.7 L395.9 792.9 L411.2 813.2 L431.5 843.7 L456.9 879.2 L482.2 904.6 L500.0 920.1 L451.8 920.1 L431.5 891.9 L406.1 864.0 L380.7 841.1 L360.4 815.7 L347.7 798.0 Z M375.6 742.1 L395.9 747.2 L421.3 777.7 L451.8 803.0 L482.2 843.7 L500.0 866.5 L500.0 891.9 L477.2 866.5 L446.7 828.4 L416.2 798.0 L390.9 772.6 Z M337.6 605.1 L355.3 607.6 L362.9 625.4 L350.3 622.8 Z M291.9 663.5 L304.6 683.8 L312.2 706.6 L302.0 701.5 L294.4 683.8 Z M400.0 663.5 L420.3 671.1 L450.8 706.6 L488.8 757.4 L509.1 798.0 L511.7 853.8 L496.4 853.8 L476.1 803.0 L445.7 757.4 L415.2 714.2 L400.0 701.5 Z M400.0 772.6 L425.4 787.8 L455.8 828.4 L476.1 864.0 L483.8 891.9 L463.5 879.2 L435.5 843.7 L410.2 813.2 L400.0 803.0 Z M428.6 894.3 L494.4 902.9 L525.9 928.6 L543.1 954.4 L571.7 965.8 L583.2 968.7 L583.2 1025.9 L534.5 1020.2 L508.8 1020.2 L480.1 997.3 L457.2 965.8 L440.1 934.3 Z M471.6 965.8 L525.9 985.9 L548.8 1003.0 L531.7 1014.5 L508.8 1017.3 L480.1 1008.8 L468.7 985.9 Z M442.9 925.8 L471.6 957.2 L485.9 994.4 L471.6 994.4 L448.7 963.0 L437.2 934.3 Z M629.0 1060.3 L657.6 1057.4 L663.3 1068.9 L634.7 1071.7 Z M646.1 1028.8 L671.9 1031.7 L669.0 1040.2 L649.0 1037.4 Z M470.0 583.3 L480.0 590.0 L490.0 623.5 L505.1 650.2 L521.8 677.0 L546.9 707.1 L573.7 740.5 L597.1 765.6 L613.8 782.3 L622.2 800.1 L610.5 800.1 L597.1 782.3 L580.4 763.9 L556.9 737.2 L530.2 705.4 L505.1 673.6 L486.7 645.2 L473.3 615.1 Z M390.0 433.5 L400.0 453.6 L406.7 470.3 L416.7 490.4 L426.8 507.1 L433.5 523.8 L438.5 540.5 L433.5 557.3 L440.1 574.0 L443.5 600.1 L431.8 600.1 L426.8 574.0 L421.7 557.3 L425.1 540.5 L418.4 523.8 L411.7 507.1 L403.3 490.4 L393.3 470.3 L383.3 453.6 Z M608.1 775.1 L615.7 775.1 L628.4 803.0 L638.6 828.4 L643.7 853.8 L653.8 879.2 L653.8 904.6 L643.7 922.3 L633.5 922.3 L641.1 904.6 L641.1 879.2 L632.2 853.8 L625.9 828.4 L615.7 803.0 Z"/></clipPath>
<g clip-path="url(#pksclip)"><g transform="rotate(47 500 700)" filter="url(#streak)"><g transform="rotate(-47 500 700)"><g filter="url(#hotf)">
<ellipse cx="375.6" cy="810.7" rx="15.2" ry="12.7" transform="rotate(30 375.6 810.7)" fill="#000" opacity="0.68"/>
<ellipse cx="431.5" cy="876.6" rx="10.2" ry="7.6" transform="rotate(0 431.5 876.6)" fill="#000" opacity="0.51"/>
<ellipse cx="446.7" cy="782.7" rx="6.3" ry="30.5" transform="rotate(-40 446.7 782.7)" fill="#000" opacity="0.42"/>
<ellipse cx="488.8" cy="838.6" rx="6.3" ry="30.5" transform="rotate(-40 488.8 838.6)" fill="#000" opacity="0.51"/>
<ellipse cx="438.1" cy="787.8" rx="6.3" ry="27.9" transform="rotate(-45 438.1 787.8)" fill="#000" opacity="0.42"/>
<ellipse cx="427.9" cy="876.6" rx="7.6" ry="7.6" transform="rotate(0 427.9 876.6)" fill="#000" opacity="0.51"/>
<ellipse cx="520.2" cy="942.9" rx="11.4" ry="8.6" transform="rotate(30 520.2 942.9)" fill="#000" opacity="0.34"/>
</g></g></g></g>
<g filter="url(#speck)"><g filter="url(#rag)">
<path d="M498.8 256.5 L505.1 252.1 L512.7 254.0 L520.4 250.2 L522.9 255.2 L517.8 261.6 L510.2 260.3 L506.4 265.4 L501.3 264.1 Z M352.6 445.2 L360.9 443.5 L365.1 450.2 L357.6 454.4 Z" fill="#fbe4dc"/>
</g></g>
</g>
<path d="M299.2 582.2 L307.5 585.8 L312.6 590.9 L313.7 594.0 L310.6 598.1 L303.4 599.7 L302.3 603.3 L299.2 605.4 L301.3 609.5 L307.5 611.5 L310.1 615.7 L309.5 621.9 L306.4 623.9 L312.6 626.0 L317.8 629.1 L318.8 634.2 L322.9 640.4 L325.0 648.7 L328.1 656.9 L329.1 660.0 L334.3 662.1 L338.4 664.6 L344.1 666.2 L338.4 666.7 L334.3 667.7 L329.1 667.7 L326.5 664.1 L324.0 660.5 L317.8 659.0 L314.7 654.8 L311.6 651.8 L306.4 649.7 L302.3 646.6 L301.3 640.4 L301.8 632.2 L300.8 626.0 L299.2 622.9 L292.0 621.9 L291.0 615.7 L289.4 611.5 L292.0 608.5 L293.0 603.3 L291.0 599.2 L292.0 590.9 L292.0 586.8 L297.2 585.3 Z" fill="#fff" stroke="#000" stroke-width="1.6" stroke-linejoin="round"/>
<path d="M243.5 571.3 L259 590.4" stroke="#000" stroke-width="2.8" stroke-linecap="round"/>
<path d="M248.7 589.9 L250.8 595" stroke="#000" stroke-width="3.5" stroke-linecap="round"/>
<circle cx="232.7" cy="628.6" r="1.5" fill="#000"/>
<circle cx="239.4" cy="633.7" r="1.5" fill="#000"/>
<circle cx="242" cy="637.1" r="1.5" fill="#000"/>
<ellipse cx="135.3" cy="248.6" rx="4.2" ry="2.8" transform="rotate(-25 135.3 248.6)" fill="#fff" stroke="#000" stroke-width="1.8"/>
<ellipse cx="124.8" cy="263.8" rx="2.2" ry="3.4" transform="rotate(25 124.8 263.8)" fill="#fff" stroke="#000" stroke-width="1.8"/>
<path d="M133 252 L126 262" stroke="#000" stroke-width="3"/>
<path class="fo" d="M140.0 101.4 L141.2 109.0 L139.3 119.2 L143.8 128.1 L147.6 138.2 L150.8 145.8 L152.7 156.0 L155.8 163.6 L159.0 168.7 L163.5 171.2 L166.0 177.6 L169.2 178.8 L169.8 189.0 L174.2 191.5 L174.9 199.1 L179.9 200.4 L181.2 202.3 L186.9 201.7 L191.4 222.6 L170.4 228.3 L170.4 234.7 L174.9 235.9 L173.6 241.0 L170.4 242.3 L172.3 251.2" style="stroke-width:2.5"/>
<path class="fo" d="M166.6 101.7 L172.3 104.0 L179.3 107.8 L180.6 114.7 L175.5 121.7 L177.4 131.9 L176.8 143.3 L181.2 148.4 L188.8 152.2 L190.7 155.4 L194.5 153.5 L196.4 149.6 L200.3 153.5 L207.9 156.0 L216.8 157.3 L217.4 171.2 L213.6 173.8 L209.8 174.4 L211.7 181.4 L209.1 188.4 L199.0 191.5 L200.3 197.9 L201.5 202.9 L202.8 206.8 L200.9 211.8 L199.0 216.9 L201.5 223.2 L202.2 228.3 L198.4 234.7 L196.4 242.3 L195.2 251.2" style="stroke-width:2.5"/>
<path class="fo" d="M180.6 114.7 L187.6 112.2 L190.7 107.8 L191.4 101.7" style="stroke-width:2.5"/>
<path class="fo" d="M209.8 101.7 L212.9 105.9 L219.3 109.0 L223.7 110.3 L229.4 107.8 L236.4 106.5 L243.4 109.0 L247.2 107.1 L249.7 102.1 L254.2 95.1 L259.9 92.5 L268.8 90.0 L277.7 90.0 L273.9 95.1 L268.8 100.2 L270.7 106.5 L275.1 111.6 L278.9 115.4 L279.6 124.3 L275.8 129.3 L277.0 134.4 L270.1 137.0 L266.2 138.9 L239.0 138.9 L238.3 166.1 L243.4 166.8 L245.9 169.3 L247.8 178.8 L252.3 182.6 L257.4 181.4 L259.3 189.0 L265.0 190.3 L270.1 185.2 L275.1 183.9 L277.0 178.8 L279.6 177.6 L280.2 171.2 L283.4 169.3 L284.0 177.6 L282.7 183.9 L277.0 186.4 L272.6 191.5 L266.2 194.1 L263.7 199.1 L252.3 202.9 L245.9 205.5 L247.2 210.6 L245.9 215.6 L251.0 219.4 L252.3 224.5 L250.4 228.3 L243.4 226.4 L239.6 227.1 L236.4 222.0 L232.0 218.8 L221.8 218.2 L217.4 215.0 L212.9 209.3 L207.9 208.0 L202.8 206.8" style="stroke-width:2.5"/>
<path class="fo" d="M249.7 140.8 L263.7 140.1 L263.1 144.6 L251.0 145.2 Z" style="stroke-width:3.9"/>
<path class="fo" d="M264.3 145.2 L277.0 147.1 L276.4 149.6 L265.0 148.4 Z" style="stroke-width:3.1"/>
<path class="fo" d="M283.4 169.3 L287.8 170.6 L289.7 172.5 L295.4 173.8 L297.3 181.4 L303.0 184.5 L308.1 183.9" style="stroke-width:2.5"/>
<path class="fo" d="M308.1 105.2 L315.7 102.7 L323.4 104.0 L332.2 102.7" style="stroke-width:3.1"/>
<path class="fo" d="M308.1 105.2 L308.8 119.2 L314.5 128.1 L311.9 135.7 L311.3 143.3 L317.0 145.8" style="stroke-width:3.5"/>
<path class="fo" d="M315.7 109.0 L320.8 117.9 L327.2 126.8 L333.5 133.1 L341.1 138.2 L348.7 137.0" style="stroke-width:3.5"/>
<path class="fo" d="M315.7 121.7 L322.1 131.9 L328.4 140.8 L336.0 148.4 L343.7 150.9" style="stroke-width:3.1"/>
<path class="fo" d="M334.8 106.5 L343.7 107.1 L344.3 115.4 L336.0 119.8" style="stroke-width:2.7"/>
<path class="fo" d="M323.4 112.8 L328.4 110.3 L333.5 119.2 L338.6 128.1" style="stroke-width:2.7"/>
<path class="fo" d="M304.9 153.5 L315.7 156.0 L314.5 159.2 L305.6 158.5 Z" style="stroke-width:3.1"/>
<path class="fo" d="M320.8 153.5 L323.4 161.1 L332.2 166.1 L341.1 164.9 L350.6 161.1" style="stroke-width:2.5"/>
<path class="fo" d="M304.3 162.3 L304.9 171.2 L309.4 173.8 L308.1 183.9" style="stroke-width:2.5"/>
<path class="fo" d="M299.2 178.8 L308.1 177.6 L309.4 186.4 L304.3 191.5 L300.5 187.7 Z" style="stroke-width:3.9"/>
<path class="fo" d="M303.0 191.5 L313.2 190.3 L314.5 197.9 L310.7 204.2 L304.3 201.7 Z" style="stroke-width:3.9"/>
<path class="fo" d="M301.8 208.0 L309.4 206.8 L308.1 222.0 L299.2 223.2 L298.0 215.6 Z" style="stroke-width:3.9"/>
<path class="fo" d="M294.8 223.2 L303.0 222.6 L302.4 229.6 L295.4 229.6 Z" style="stroke-width:3.9"/>
<path class="fo" d="M334.8 168.7 L350.6 166.1" style="stroke-width:3.1"/>
<path class="fo" d="M336.0 177.6 L350.6 173.8" style="stroke-width:3.1"/>
<path class="fo" d="M328.4 189.0 L341.1 186.4 L350.6 190.3" style="stroke-width:3.9"/>
<path class="fo" d="M336.0 178.8 L337.3 191.5 L333.5 199.1" style="stroke-width:3.1"/>
<path class="fo" d="M308.1 204.2 L338.6 205.5 L348.7 197.9 L350.6 197.9" style="stroke-width:2.5"/>
<path class="fo" d="M350.6 222.0 L344.9 220.7 L341.1 222.0 L339.8 229.6 L341.8 239.7 L343.7 251.2" style="stroke-width:2.5"/>
<path class="fo" d="M138.7 149.6 L141.9 150.9 L143.8 161.1 L140.6 161.1 Z" style="stroke-width:2.3"/>
<path class="fo" d="M158.4 175.0 L163.5 174.4 L163.5 178.8 L159.0 178.8 Z" style="stroke-width:2.3"/>
<path class="fo" d="M412.5 114.1 L418.8 111.6 L427.7 110.3 L429.6 119.2 L423.9 121.7 L420.7 126.8 L417.6 123.0 L413.8 119.2 Z" style="stroke-width:2.5"/>
<path class="fo" d="M411.2 102.1 L410.6 107.1 L403.6 107.8 L404.2 120.5 L401.1 124.3 L394.7 124.3 L392.2 121.1 L385.8 121.7 L380.1 120.5 L377.0 112.2 L369.3 113.5 L368.7 131.9 L374.4 135.1 L376.3 140.8 L375.7 149.6 L373.1 154.7 L377.0 161.1 L380.8 164.9 L384.6 168.7 L384.6 183.9 L385.8 191.5 L396.0 190.3 L397.3 195.3 L403.6 196.0 L403.0 183.3 L385.8 183.3" style="stroke-width:2.5"/>
<path class="fo" d="M330.0 168.7 L337.6 166.1 L349.0 161.1 L361.7 156.0 L373.1 154.7" style="stroke-width:2.5"/>
<path class="fo" d="M368.7 131.9 L355.4 131.9 L342.7 134.4 L330.0 135.7" style="stroke-width:2.5"/>
<path class="fo" d="M333.8 105.2 L342.7 104.6 L342.7 119.2 L335.1 119.8 Z" style="stroke-width:2.3"/>
<path class="fo" d="M332.5 133.1 L341.4 138.2 L347.8 147.1 L355.4 142.0 L345.2 149.6 L346.5 157.3" style="stroke-width:3.9"/>
<path class="fo" d="M330.0 140.8 L337.6 144.6 L342.7 153.5 L337.6 156.0" style="stroke-width:3.9"/>
<path class="fo" d="M341.4 166.1 L354.1 164.9 L351.6 176.3 L342.7 177.6 Z" style="stroke-width:4.7"/>
<path class="fo" d="M335.1 176.3 L345.2 181.4 L355.4 182.6 L356.6 186.4 L347.8 190.3 L337.6 186.4 Z" style="stroke-width:3.9"/>
<path class="fo" d="M360.5 190.3 L371.9 191.5 L373.1 204.2 L363.0 205.5 Z" style="stroke-width:5.5"/>
<path class="fo" d="M330.0 196.6 L337.6 197.9 L346.5 199.1 L355.4 200.4" style="stroke-width:3.1"/>
<path class="fo" d="M354.1 206.8 L361.7 211.8 L368.1 210.6 L378.2 215.6 L383.3 211.8" style="stroke-width:3.1"/>
<path class="fo" d="M330.0 205.5 L338.9 204.8 L339.5 195.3 L349.0 191.5 L359.2 190.3" style="stroke-width:2.5"/>
<path class="fo" d="M375.7 186.4 L385.8 185.2 L385.8 191.5" style="stroke-width:2.5"/>
<path class="fo" d="M482.3 102.7 L481.0 112.8 L484.2 123.0 L482.3 134.4 L485.5 140.8 L485.5 155.4 L474.7 156.0 L474.0 161.7 L442.3 162.3 L441.0 176.3 L446.8 175.0 L451.8 174.4 L456.9 178.8 L460.7 186.4 L463.2 191.5 L468.3 196.6 L473.4 200.4 L477.8 208.0 L469.6 209.3 L462.0 209.3 L456.9 215.6 L456.9 219.4 L462.0 225.8 L458.2 229.6 L455.0 238.5 L450.6 233.4 L445.5 227.1 L437.9 232.1 L431.5 238.5 L423.9 238.5 L421.4 230.9 L429.0 222.0 L431.5 214.4 L436.6 211.8 L441.7 215.6 L445.5 220.7 L450.6 218.2 L449.3 209.3 L445.5 204.2 L446.8 194.1 L439.1 195.3 L435.3 197.9 L429.0 192.8 L423.9 186.4 L420.1 187.7 L418.8 194.1 L411.2 195.3 L403.6 196.0" style="stroke-width:2.5"/>
<path class="fo" d="M502.0 102.7 L500.7 115.4 L496.2 121.7 L497.5 140.8 L498.1 156.0 L496.2 178.8 L493.7 194.1 L490.5 197.9 L493.7 204.2 L496.2 211.8 L507.7 211.2 L520.4 213.7 L519.1 194.1 L515.3 178.8 L511.5 161.1 L507.7 147.1 L508.9 131.9 L511.5 117.9 L517.8 110.3 L520.4 102.7" style="stroke-width:2.5"/>
<path class="fo" d="M342.7 220.7 L340.2 229.6 L341.4 242.3 L342.7 251.2" style="stroke-width:2.5"/>
<path class="fo" d="M345.2 220.7 L352.8 227.1 L360.5 224.5 L363.0 230.9 L371.9 233.4 L382.0 233.4 L383.3 237.2 L390.9 237.8 L392.2 241.0 L401.1 239.7 L408.7 242.3 L418.8 243.6 L421.4 247.4 L437.9 247.4 L439.1 242.3 L450.6 242.3 L451.8 249.9" style="stroke-width:2.5"/>
<path class="fo" d="M385.8 191.5 L383.3 196.6 L379.5 200.4 L380.8 208.0 L383.3 215.6 L382.0 222.0 L374.4 222.0 L361.7 222.0 L359.2 214.4 L355.4 209.3" style="stroke-width:2.5"/>
<path class="fo" d="M389.6 197.9 L393.5 199.1 L397.3 204.2 L397.3 211.8 L401.1 214.4 L403.0 209.3 L402.3 202.9 L406.1 197.9 L411.2 201.7" style="stroke-width:2.5"/>
<path class="fo" d="M390.9 150.9 L398.5 153.5 L397.9 156.6 L391.5 156.0 Z" style="stroke-width:2.5"/>
<path class="fo" d="M355.4 237.2 L365.5 235.9 L368.1 242.3 L359.2 244.8 Z" style="stroke-width:3.9"/>
<path class="fo" d="M170.4 240.0 L171.1 247.6 L176.1 252.7 L178.7 257.8 L179.3 265.4 L171.1 266.6 L168.5 262.8 L168.5 255.2 L164.7 247.6 L168.5 246.3 L171.1 247.6" style="stroke-width:2.5"/>
<path class="fo" d="M169.2 254.0 L178.7 255.2 L178.0 264.1 L169.8 264.1 Z" style="stroke-width:2.7"/>
<path class="fo" d="M171.1 266.6 L178.7 271.7 L182.5 278.1 L185.0 284.4 L188.8 289.5 L185.0 293.3 L185.7 299.6 L188.8 302.2 L187.6 307.3 L185.0 309.8 L186.3 316.1 L188.8 322.5 L196.4 328.8 L201.5 336.4 L205.3 341.5 L206.0 351.7 L212.3 351.7 L212.9 347.9 L225.0 345.3" style="stroke-width:2.5"/>
<path class="fo" d="M180.6 280.6 L184.4 280.6 L185.0 285.7 L181.2 285.7 Z" style="stroke-width:2.7"/>
<path class="fo" d="M196.4 330.7 L201.5 332.6 L205.3 336.4 L206.0 341.5 L201.5 339.0 Z" style="stroke-width:3.1"/>
<path class="fo" d="M197.7 240.0 L196.4 246.3 L191.4 248.9 L193.3 255.2 L196.4 260.3 L195.2 264.1 L190.1 265.4 L186.3 271.7 L191.4 280.6 L196.4 293.3 L201.5 303.5 L207.9 311.1 L214.2 318.7 L220.6 323.8 L226.9 327.6 L230.1 332.6 L229.4 340.3 L225.0 345.3 L226.9 351.7 L229.4 360.6 L232.0 366.9 L235.2 369.4 L236.4 385.9 L236.4 401.2" style="stroke-width:2.5"/>
<path class="fo" d="M341.1 240.0 L343.0 247.6 L339.8 254.0 L332.2 257.8 L324.6 264.1 L315.7 262.8 L290.4 263.5 L287.2 259.0 L286.5 247.6 L278.9 247.6 L276.4 257.8 L265.0 259.0 L261.2 263.5 L257.4 257.8 L247.8 260.3 L239.6 259.7 L236.4 256.5 L234.5 248.9 L230.7 248.9 L230.1 256.5 L235.8 260.3 L239.6 267.9 L240.9 273.0 L237.1 275.5 L243.4 278.1 L248.5 283.1 L252.3 288.2 L254.2 294.6 L251.6 300.9 L251.0 313.6 L256.1 317.4 L253.6 323.8 L258.6 327.6 L259.9 332.6 L266.2 334.5 L266.2 337.7 L259.9 340.3 L248.5 344.1 L245.9 336.4 L230.7 337.7 L230.1 332.6" style="stroke-width:2.5"/>
<path class="fo" d="M236.4 271.1 L243.4 270.5 L242.8 276.8 L237.1 276.2 Z" style="stroke-width:3.1"/>
<path class="fo" d="M243.4 281.9 L251.6 281.2 L252.9 288.2 L244.7 287.6 Z" style="stroke-width:3.1"/>
<path class="fo" d="M219.9 283.8 L226.9 281.2 L234.5 279.3 L238.3 280.6 L233.2 283.8 L226.9 288.2 L220.6 288.9 Z" style="stroke-width:2.5"/>
<path class="fo" d="M259.9 344.1 L265.0 346.6 L275.1 347.2 L275.8 366.9 L277.0 373.2 L281.5 379.6 L282.1 389.7 L280.8 401.2" style="stroke-width:2.5"/>
<path class="fo" d="M259.9 342.2 L266.2 342.2 L266.2 346.6 L260.2 346.3 Z" style="stroke-width:3.1"/>
<path class="fo" d="M350.6 314.9 L346.8 315.5 L346.8 336.4 L350.6 336.4" style="stroke-width:2.5"/>
<path class="fo" d="M218.7 358.0 L225.6 359.9 L225.0 364.4 L219.3 362.5 Z" style="stroke-width:2.5"/>
<path class="fo" d="M383.3 240.0 L382.0 246.3 L371.9 250.2 L369.3 252.7 L368.1 265.4 L370.6 278.1 L371.9 290.8 L371.2 311.1 L368.1 316.1 L373.1 318.7 L374.4 323.8 L366.8 325.0 L365.5 318.7 L357.9 318.7 L355.4 314.9 L347.1 314.9 L347.1 334.5 L359.2 335.2 L357.3 341.5 L352.2 347.9 L357.3 350.4 L357.3 356.1 L363.0 356.1 L363.6 349.1 L371.9 347.9 L379.5 350.4 L380.1 355.5 L385.8 358.0 L398.5 359.3 L399.2 366.9 L389.6 368.2 L389.0 379.6 L389.6 392.3 L392.2 398.6 L406.1 401.2" style="stroke-width:2.5"/>
<path class="fo" d="M330.0 259.0 L338.9 254.0 L342.7 247.6 L341.4 240.0" style="stroke-width:2.5"/>
<path class="fo" d="M356.6 254.0 L363.0 253.3 L363.6 264.1 L357.3 264.7 Z" style="stroke-width:2.5"/>
<path class="fo" d="M418.8 240.0 L421.4 246.3 L437.9 247.0 L439.1 242.5 L449.3 242.5 L449.9 252.7 L453.1 259.0 L456.9 262.8 L456.9 273.0 L451.8 280.6 L444.2 280.6 L442.9 290.8 L444.2 297.1 L451.8 300.9 L455.6 308.5 L456.9 313.6 L474.7 312.3 L482.3 321.2 L492.4 331.4 L505.1 336.4 L510.2 345.3 L517.8 354.2 L525.4 361.8 L522.9 369.4 L520.4 375.8 L512.7 373.2 L505.1 374.5 L495.0 373.2 L484.8 369.4 L481.0 377.1 L469.6 379.6 L464.5 373.2 L460.7 366.9 L451.8 365.6" style="stroke-width:2.5"/>
<path class="fo" d="M456.9 313.6 L450.6 321.2 L444.2 327.6 L435.3 323.8 L430.3 326.3 L431.5 332.6 L418.8 333.9 L412.5 341.5 L406.1 345.3 L402.3 354.2 L399.2 366.9" style="stroke-width:2.5"/>
<path class="fo" d="M406.1 311.1 L416.3 306.0 L435.3 306.0 L436.6 302.2 L442.9 302.2 L444.2 313.6 L448.0 316.1 L448.0 321.2 L444.2 327.6" style="stroke-width:2.5"/>
<path class="fo" d="M406.1 311.1 L407.4 316.1 L402.3 322.5 L406.1 328.8 L403.6 336.4 L411.2 341.5" style="stroke-width:2.5"/>
<path class="fo" d="M378.9 284.4 L383.3 283.1 L388.4 285.1 L398.5 280.6 L407.4 281.2 L408.0 285.7 L410.6 287.0 L410.6 300.9 L401.1 300.9 L399.2 302.8 L392.2 300.9 L379.5 301.5 Z" style="stroke-width:2.5"/>
<path class="fo" d="M437.9 333.9 L448.7 334.5 L449.9 345.3 L442.9 345.3 L441.7 339.0 L437.9 337.7 Z" style="stroke-width:2.5"/>
<path class="fo" d="M435.3 360.6 L440.4 358.0 L448.0 360.6 L448.7 365.0 L442.9 365.0 L436.6 363.1 Z" style="stroke-width:2.5"/>
<path class="fo" d="M368.1 328.8 L380.8 327.6 L384.6 340.3 L383.3 351.7 L374.4 349.1 L370.6 340.3 Z" style="stroke-width:4.7"/>
<path class="fo" d="M373.1 333.9 L379.5 341.5 L380.8 347.9" style="stroke-width:3.9"/>
<path class="fo" d="M402.3 322.5 L411.2 321.2 L418.8 327.6 L427.7 331.4 L418.8 336.4 L411.2 341.5 L404.9 340.3 Z" style="stroke-width:4.7"/>
<path class="fo" d="M408.7 328.8 L418.8 331.4" style="stroke-width:4.7"/>
<path class="fo" d="M377.0 368.2 L388.4 369.4 L389.0 379.6 L380.8 378.3 Z" style="stroke-width:4.7"/>
<path class="fo" d="M451.8 365.0 L460.7 366.9 L464.5 374.5 L469.6 379.6 L481.0 378.3 L486.1 370.7 L492.4 377.1 L489.9 389.7 L479.7 391.0 L473.4 385.9" style="stroke-width:3.9"/>
<path class="fo" d="M469.6 380.9 L479.7 384.7 L487.4 382.1" style="stroke-width:4.7"/>
<path class="fo" d="M439.1 401.2 L444.2 393.6 L453.1 389.1 L462.0 391.0 L467.1 396.1 L475.9 398.6" style="stroke-width:2.5"/>
<path class="fo" d="M416.3 391.0 L426.4 389.7 L427.1 392.3 L418.8 394.2 Z" style="stroke-width:2.3"/>
<path class="fo" d="M497.5 401.2 L498.8 396.1 L512.7 395.5 L516.5 387.8" style="stroke-width:2.5"/>
<path class="fo" d="M444.2 281.9 L456.9 280.6 L458.2 290.8 L450.6 299.6 L444.2 295.8" style="stroke-width:2.3"/>
<path class="fo" d="M456.9 265.4 L462.0 273.0 L465.8 265.4" style="stroke-width:2.5"/>
<path class="fo" d="M237.1 390.0 L235.5 398.4 L241.3 400.0 L241.3 405.9 L227.9 406.7 L227.1 411.7 L230.5 416.8 L231.3 425.1 L238.8 426.0 L238.8 438.5 L242.2 440.2 L243.8 446.9 L250.5 451.9 L257.2 455.2 L265.6 461.9 L266.4 468.6 L270.6 468.6 L271.4 464.4 L281.5 463.6 L281.5 460.2 L277.3 458.6 L285.6 453.6 L286.5 440.2 L284.0 433.5 L283.1 423.5 L280.6 415.1 L280.6 400.0 L282.3 390.0" style="stroke-width:2.5"/>
<path class="fo" d="M273.1 454.4 L278.1 454.4 L278.1 458.6 L273.6 458.6 Z" style="stroke-width:3.1"/>
<path class="fo" d="M389.3 390.0 L391.0 396.7 L401.1 398.4 L406.1 406.7 L412.8 415.1 L417.8 430.1 L427.8 431.8" style="stroke-width:2.5"/>
<path class="fo" d="M402.7 400.0 L417.8 401.7 L427.8 400.0 L422.8 411.7 L412.8 416.8 L417.8 423.5 L424.5 420.1" style="stroke-width:4.3"/>
<path class="fo" d="M409.4 406.7 L422.8 408.4" style="stroke-width:4.7"/>
<path class="fo" d="M400.0 411.7 L410.0 416.8 L416.7 431.8 L423.4 430.1 L426.8 411.7 L438.5 406.7 L443.5 395.0 L453.5 390.0" style="stroke-width:2.5"/>
<path class="fo" d="M423.4 430.1 L433.5 428.5 L441.8 430.1" style="stroke-width:2.5"/>
<path class="fo" d="M400.0 393.3 L410.0 390.0 L418.4 396.7 L420.1 408.4 L415.1 418.4 L406.7 410.1 L401.7 403.4 Z" style="stroke-width:4.7"/>
<path class="fo" d="M410.0 406.7 L418.4 420.1 L420.1 430.1" style="stroke-width:5.5"/>
<path class="fo" d="M441.0 430.1 L448.5 429.3 L455.2 438.5 L463.6 440.2 L461.9 448.5 L453.5 445.2 L448.5 450.2 L442.6 445.2 Z" style="stroke-width:3.5"/>
<path class="fo" d="M463.6 390.0 L466.9 396.7 L476.9 395.0 L483.6 390.0" style="stroke-width:2.5"/>
<path class="fo" d="M487.0 390.0 L490.3 406.7 L497.8 405.1 L498.7 396.7 L515.4 395.9 L520.4 405.1 L525.4 420.1 L528.8 433.5" style="stroke-width:2.5"/>
<path class="fo" d="M500.4 413.4 L523.8 410.1 L525.4 433.5 L502.0 434.3 Z" style="stroke-width:2.3"/>
<path class="fo" d="M502.0 418.4 L523.8 416.8" style="stroke-width:3.9"/>
<path class="fo" d="M503.7 426.0 L524.6 424.3" style="stroke-width:3.9"/>
<path class="fo" d="M508.7 411.7 L510.4 433.5" style="stroke-width:3.1"/>
<path class="fo" d="M517.1 410.9 L517.9 432.6" style="stroke-width:3.1"/>
<path class="fo" d="M455.2 451.9 L453.5 463.6 L456.9 472.0 L450.2 475.3 L446.8 483.7 L451.8 490.4 L453.5 500.4 L461.9 505.4 L470.2 507.1" style="stroke-width:2.5"/>
<path class="fo" d="M450.2 475.3 L466.9 473.6 L483.6 466.1 L497.0 466.1 L507.0 473.6 L510.4 472.0 L507.0 463.6 L510.4 453.6 L520.4 445.2 L528.8 441.8" style="stroke-width:2.5"/>
<path class="fo" d="M510.4 472.0 L513.7 485.3 L517.1 493.7 L523.8 498.7 L527.1 510.4 L532.1 518.8 L537.1 525.5 L543.8 528.0 L548.9 535.5 L553.9 543.9 L560.6 547.2 L562.2 557.3 L565.6 563.9 L567.3 574.0 L568.9 579.0 L557.2 585.7 L545.5 589.0 L542.2 600.1" style="stroke-width:2.5"/>
<path class="fo" d="M495.3 543.0 L508.7 540.5 L523.8 537.2 L528.8 530.5 L537.1 533.8 L543.8 528.8" style="stroke-width:2.5"/>
<path class="fo" d="M495.3 532.2 L495.3 557.3 L494.5 590.7 L498.7 593.2 L513.7 593.2 L513.7 600.1" style="stroke-width:2.5"/>
<path class="fo" d="M453.5 490.4 L458.5 503.7 L466.9 507.1 L473.6 517.1 L478.6 532.2 L490.3 533.8 L491.2 528.8 L483.6 520.5 L483.6 510.4 L473.6 507.1" style="stroke-width:3.9"/>
<path class="fo" d="M470.2 510.4 L480.3 523.8 L483.6 532.2" style="stroke-width:5.5"/>
<path class="fo" d="M484.5 542.2 L493.7 543.0 L492.0 557.3 L491.2 579.0 L488.6 557.3 L487.0 547.2" style="stroke-width:3.9"/>
<path class="fo" d="M597.4 600.1 L599.0 595.7 L632.5 587.4 L634.2 600.1" style="stroke-width:2.5"/>
<path class="fo" d="M647.5 585.7 L648.4 600.1" style="stroke-width:2.5"/>
<path class="fo" d="M493.4 590.0 L510.1 593.3 L506.8 611.7 L515.1 615.1 L516.0 637.7 L526.8 638.5 L528.5 641.8 L551.9 640.2 L551.9 633.5 L543.6 630.1 L542.7 623.5 L546.9 620.1 L541.9 611.7 L542.7 590.0" style="stroke-width:2.5"/>
<path class="fo" d="M536.9 641.8 L537.7 655.2 L546.9 656.9 L551.9 668.6 L558.6 672.0 L567.0 675.3 L568.6 687.0 L575.3 690.4 L577.0 705.4 L580.4 712.1 L587.0 718.8 L595.4 723.8 L596.2 740.5 L607.1 741.4 L612.1 738.9 L617.1 740.5 L618.0 748.9 L625.5 757.3 L630.5 765.6 L635.5 767.3 L633.9 757.3 L637.2 755.6 L640.6 763.9 L652.3 758.9 L653.9 745.5 L654.8 737.2 L648.9 737.2 L640.6 732.2 L648.9 723.8 L652.3 713.8 L647.3 707.1 L643.1 697.0 L645.6 693.7 L653.9 692.0 L657.3 697.0" style="stroke-width:2.5"/>
<path class="fo" d="M596.2 733.8 L603.8 737.2 L597.1 740.5 Z" style="stroke-width:3.1"/>
<path class="fo" d="M617.1 740.5 L627.2 743.9 L640.6 740.5 L653.9 738.0" style="stroke-width:2.5"/>
<path class="fo" d="M627.2 750.6 L631.4 749.7 L633.0 757.3 L636.4 765.6" style="stroke-width:2.5"/>
<path class="fo" d="M551.9 640.2 L558.6 645.2 L560.3 656.9 L570.3 661.9 L571.2 656.9 L587.0 653.6 L590.4 645.2 L597.1 641.8 L603.8 633.5 L607.1 623.5 L605.4 611.7 L597.1 606.7 L595.4 600.0 L598.7 596.7 L618.8 593.3 L630.5 590.0" style="stroke-width:2.5"/>
<path class="fo" d="M603.8 633.5 L612.1 646.9 L613.8 653.6 L622.2 656.1 L633.9 663.6 L645.6 661.9 L648.9 670.3 L647.3 677.0 L653.9 682.0 L657.3 690.4 L659.0 703.7 L669.0 707.1 L679.0 713.8 L684.0 727.1 L687.4 740.5 L684.0 750.6 L690.7 760.6 L697.4 774.0 L699.1 782.3 L687.4 789.0 L685.7 800.1" style="stroke-width:2.5"/>
<path class="fo" d="M647.3 590.0 L648.9 600.0 L662.3 603.4 L664.0 608.4 L669.0 610.1 L670.7 616.8 L674.0 611.7 L665.6 601.7 L699.1 601.7 L699.9 623.5 L710.8 625.1 L711.6 638.5 L720.8 655.2 L721.7 672.0 L711.6 682.0 L713.3 692.0 L720.8 698.7 L725.0 727.1 L725.0 749.7 L716.7 748.9 L713.3 738.9 L705.8 728.8 L703.3 693.7 L695.8 685.3 L690.7 660.2 L685.7 640.2 L681.5 623.5 L680.7 616.8" style="stroke-width:2.5"/>
<path class="fo" d="M630.5 610.1 L640.6 611.7 L655.6 615.1 L664.0 620.1 L665.6 628.5 L670.7 629.3 L670.7 656.9 L662.3 661.9 L661.5 673.6 L667.3 680.3 L680.7 683.7 L687.4 697.0 L689.1 707.1 L691.6 720.5 L695.8 737.2 L697.4 757.3 L704.1 770.6 L712.5 779.0 L717.5 782.3 L719.2 800.1" style="stroke-width:2.5"/>
<path class="fo" d="M630.5 590.0 L628.9 600.0 L630.5 610.1" style="stroke-width:2.5"/>
<path class="fo" d="M643.1 634.3 L653.1 634.3 L653.9 643.5 L654.8 655.2 L648.9 653.6 L642.2 645.2 Z" style="stroke-width:2.5"/>
<path class="fo" d="M613.8 605.1 L616.3 610.1 L620.5 611.7 L616.3 616.8 L614.6 611.7 Z" style="stroke-width:2.5"/>
<path class="fo" d="M553.6 705.4 L557.8 708.7 L556.9 712.9 L553.6 710.4 Z" style="stroke-width:2.5"/>
<path class="fo" d="M665.6 794.0 L669.0 792.4 L674.0 800.1" style="stroke-width:2.5"/>
<path class="fo" d="M508.4 615.1 L514.3 615.1 L514.3 621.8 L509.3 621.8 Z" style="stroke-width:2.3"/>
<path class="fo" d="M355.3 795.4 L365.5 792.9 L368.0 796.7 L375.6 796.7 L378.2 800.5 L388.3 803.0 L392.1 813.2 L408.6 814.5 L408.6 825.9 L395.9 828.4 L395.9 838.6 L401.0 843.7 L395.9 851.3 L403.6 856.3 L416.2 864.0 L403.6 866.5 L392.1 853.8 L388.3 843.7 L375.6 828.4 L357.9 810.7 L352.8 800.5 Z" style="stroke-width:2.5"/>
<path class="fo" d="M651.3 676.1 L658.9 696.4 L666.5 686.3 L679.2 701.5 L686.8 714.2 L689.3 732.0 L698.2 752.3 L704.6 772.6 L717.3 782.7 L718.5 803.0 L721.1 823.4 L721.1 833.5 L709.6 836.0 L707.1 853.8 L704.6 874.1 L694.4 874.1 L681.7 869.0 L674.1 879.2 L669.0 897.0 L664.0 907.1 L646.2 904.6 L653.8 899.5 L658.9 894.4 L661.4 884.3 L658.9 866.5 L656.3 846.2 L661.4 841.1 L661.4 829.7 L650.0 828.4 L651.3 805.6 L639.8 803.0" style="stroke-width:2.5"/>
<path class="fo" d="M639.8 803.0 L666.5 800.5 L667.8 795.4 L674.1 800.5 L681.7 803.0 L684.3 792.9 L697.0 782.7 L695.7 772.6 L689.3 762.4" style="stroke-width:2.5"/>
<path class="fo" d="M681.7 803.0 L686.8 815.7 L702.0 820.8 L721.1 823.4" style="stroke-width:2.5"/>
<path class="fo" d="M705.8 877.9 L717.3 875.4 L721.1 886.8 L712.2 891.9 L704.6 889.3 Z" style="stroke-width:2.5"/>
<path class="fo" d="M676.6 894.4 L695.7 886.8 L697.0 904.6 L691.9 910.9 L681.7 909.6 Z" style="stroke-width:2.5"/>
<path class="fo" d="M674.1 875.4 L681.7 869.0 L686.8 879.2 L679.2 884.3 Z" style="stroke-width:2.7"/>
<path class="fo" d="M400.0 815.7 L408.9 814.5 L410.2 825.9 L400.0 828.4" style="stroke-width:2.5"/>
<path class="fo" d="M400.0 861.4 L407.6 858.9 L415.2 864.0 L407.6 866.5" style="stroke-width:2.5"/>
<path class="fo" d="M452.9 902.9 L468.7 911.4 L471.6 917.2 L494.4 921.5 L503.0 917.2 L488.7 911.4 L490.2 907.2 L501.6 908.6 L508.8 917.2 L517.3 928.6 L531.7 938.6 L530.2 945.8 L520.2 947.2 L500.2 945.8 L503.0 954.4 L515.9 952.9 L515.9 957.2 L511.6 958.7 L511.6 965.8 L525.9 977.3 L528.8 988.7 L534.5 994.4 L543.1 997.3 L551.7 1004.5 L548.8 1010.2 L531.7 1011.6 L514.5 1013.1 L510.2 1015.9 L528.8 1017.3 L548.8 1018.8 L568.9 1023.1 L588.9 1025.9 L600.3 1021.6 L617.5 1021.6 L630.4 1025.1 L631.8 1020.2 L646.1 1018.8 L653.3 1013.1 L657.6 1007.3 L666.2 1015.9 L680.5 1017.3 L686.2 1013.1 L694.8 1015.9 L693.4 1005.9 L686.2 997.3 L677.6 993.0 L657.6 990.2 L646.1 987.3 L644.7 983.0 L636.1 983.0 L634.7 970.1 L620.4 968.7 L600.3 969.5 L583.2 970.1 L583.2 983.0 L578.9 977.3 L568.9 974.4 L554.6 970.1 L540.2 963.0 L531.7 954.4 L525.9 948.7" style="stroke-width:2.5"/>
<path class="fo" d="M646.1 987.3 L649.0 1000.2 L653.3 1013.1" style="stroke-width:2.5"/>
<path class="fo" d="M676.2 1031.7 L683.3 1025.9 L697.7 1024.5 L706.2 1020.2 L714.8 1017.3 L719.1 1020.2 L722.0 1025.9 L732.0 1024.5 L754.9 1025.9 L760.6 1031.7 L774.9 1031.1 L777.8 1037.4 L774.9 1051.7 L760.6 1053.1 L754.9 1056.0 L739.2 1057.4 L723.4 1053.1 L706.2 1048.8 L697.7 1043.1 L686.2 1040.2 L683.3 1034.5 Z" style="stroke-width:2.5"/>
<path class="fo" d="M760.6 1031.7 L757.8 1043.1 L760.6 1053.1" style="stroke-width:2.5"/>
<path class="fo" d="M777.8 1040.2 L793.5 1038.8 L795.0 1033.1 L812.1 1032.2 L837.9 1033.1 L847.9 1040.2 L852.2 1048.8 L850.8 1060.3 L846.5 1066.0 L845.0 1077.4 L836.5 1077.4 L836.5 1071.7 L826.4 1074.6 L820.7 1068.9 L812.1 1063.1 L797.8 1054.6 L780.7 1047.4 Z" style="stroke-width:2.5"/>
<path class="fo" d="M820.7 1070.3 L829.3 1071.7 L827.9 1077.4 L822.2 1076.0 Z" style="stroke-width:3.1"/>
<path class="fo" d="M753.5 1091.2 L759.2 1090.3 L769.2 1097.5 L780.7 1111.8 L789.2 1120.4 L783.5 1129.0 L782.1 1137.6 L772.1 1134.7 L769.2 1126.1 L763.5 1117.5 L760.6 1108.9 L754.9 1100.3 Z" style="stroke-width:2.5"/>
<path class="fo" d="M832.2 1088.9 L843.6 1087.5 L855.1 1088.9 L855.1 1100.3 L857.9 1108.9 L866.5 1111.8 L872.2 1120.4 L882.3 1126.1 L880.8 1131.8 L872.2 1129.0 L863.7 1127.5 L857.9 1120.4 L849.3 1120.4 L840.8 1127.5 L835.0 1126.1 L836.5 1117.5 L832.2 1111.8 Z" style="stroke-width:2.5"/>
<path class="fo" d="M813.6 1139.0 L822.2 1136.1 L829.3 1140.4 L837.9 1149.0 L843.6 1153.3 L849.3 1149.0 L859.4 1148.4 L857.9 1151.9 L846.5 1156.2 L840.8 1160.4 L837.9 1169.0 L836.5 1177.6 L829.3 1179.0 L827.9 1169.0 L832.2 1163.3 L836.5 1157.6 L829.3 1151.9 L820.7 1147.6 Z" style="stroke-width:2.5"/>
<path class="fo" d="M853.6 1179.0 L859.4 1183.3 L857.9 1197.7 L869.4 1199.1 L873.7 1209.1 L878.0 1212.0 L876.5 1219.1 L869.4 1222.0 L865.1 1227.7 L852.2 1228.6 L843.6 1224.8 L837.9 1214.8 L839.3 1209.1 L835.0 1203.4 L836.5 1191.9 L843.6 1186.2 L849.3 1181.9 Z" style="stroke-width:2.5"/>
<path class="fo" d="M836.5 1194.8 L846.5 1193.4 L847.9 1203.4 L837.9 1203.4 Z" style="stroke-width:2.5"/>
<path class="fo" d="M646.1 900.0 L651.9 905.7 L666.2 902.9 L669.0 900.0" style="stroke-width:2.5"/>
<path class="fo" d="M683.3 900.0 L686.2 911.4 L694.8 912.9 L696.2 900.0" style="stroke-width:2.5"/>
<path d="M127.0 100.0 L330.0 98.5 L530.7 100.5 L530.5 478.0 L664.0 601.0 L750.0 680.0 L900.0 819.0 L1044.8 957.0 L1046.2 961.5 L1050.5 977.3 L1060.5 991.6 L1064.8 1008.8 L1069.1 1020.2 L1082.0 1030.2 L1092.6 1040.2 L1092.0 1046.0 L1079.1 1054.6 L1066.3 1063.1 L1062.0 1074.6 L1054.8 1083.2 L1056.8 1097.5 L1057.7 1108.9 L1050.5 1129.0 L1041.9 1140.4 L1036.2 1143.3 L1034.8 1154.7 L1039.6 1163.3 L1037.6 1177.6 L1047.7 1184.8 L1060.5 1191.9 L1061.4 1203.4 L1053.4 1217.7 L1036.2 1222.0 L805.8 1242.0 L805.0 1242.0 L800.7 1232.0 L795.0 1223.4 L796.4 1214.8 L792.1 1207.7 L789.8 1189.1 L786.4 1174.8 L780.7 1161.9 L772.1 1151.9 L760.6 1141.8 L749.2 1131.8 L734.9 1121.0 L723.4 1113.2 L712.0 1104.6 L703.4 1101.8 L697.7 1106.1 L689.1 1106.6 L683.3 1104.6 L681.9 1097.5 L683.3 1088.9 L679.0 1078.9 L674.8 1074.6 L657.6 1071.2 L643.3 1071.7 L629.0 1068.3 L617.5 1063.1 L607.5 1056.8 L600.3 1048.8 L594.6 1040.2 L586.0 1034.5 L571.7 1027.4 L560.3 1023.1 L537.4 1020.8 L514.5 1020.2 L500.2 1021.4 L485.9 1021.6 L477.3 1014.5 L470.1 1008.8 L471.0 997.3 L468.7 985.9 L468.7 975.0 L465.8 968.7 L468.1 957.2 L467.3 948.7 L457.2 937.2 L448.7 931.5 L445.8 921.5 L444.4 914.3 L437.2 905.7 L428.6 900.0 L418.8 891.9 L411.2 881.7 L403.6 874.1 L395.9 858.9 L388.3 843.7 L373.1 828.4 L355.3 810.7 L349.0 800.5 L345.2 792.9 L341.4 772.6 L345.2 766.2 L350.3 765.0 L356.6 762.4 L358.4 752.3 L357.9 744.7 L354.1 735.8 L350.3 729.4 L342.6 724.4 L332.5 726.9 L324.9 724.4 L317.3 719.3 L309.6 711.7 L304.6 704.1 L299.5 691.4 L298.2 681.2 L298.2 681.2 L295.6 668.2 L291.0 661.0 L287.9 650.7 L291.0 642.5 L289.5 632.0 L288.9 622.9 L278.6 615.7 L272.4 609.0 L270.4 613.1 L267.3 610.5 L259.0 601.2 L253.9 597.1 L246.6 601.2 L240.5 601.2 L242.5 594.0 L245.6 585.8 L247.2 577.5 L245.6 571.3 L241.5 566.2 L235.3 561.0 L233.5 556.3 L218.3 536.0 L203.0 518.3 L192.9 508.1 L182.7 498.0 L171.3 484.0 L175.1 477.7 L172.6 462.4 L167.5 447.2 L163.7 432.0 L166.2 419.3 L167.5 409.1 L166.2 396.4 L165.0 386.3 L158.6 376.1 L152.3 366.0 L144.7 353.3 L137.1 343.1 L124.4 330.5 L114.2 320.3 L110.4 310.2 L109.1 300.0 L107.9 304.6 L111.7 289.3 L119.3 271.6 L126.9 251.3 L130.7 238.6 L133.2 228.4 L131.5 215.7 L134.5 198.0 L137.1 187.8 L138.3 177.7 L138.3 157.4 L135.8 147.2 L132.0 137.1 L122.6 129.4 L124.4 121.8 L126.1 114.2 Z" fill="none" stroke="#000" stroke-width="2.5" stroke-linejoin="round"/>
<text x="19.5" y="67.5" font-size="32" font-weight="bold">a</text>
<line x1="306.3" y1="62.7" x2="220.8" y2="145.9" stroke="#000" stroke-width="2"/>
<line x1="394.2" y1="79.9" x2="275.4" y2="239" stroke="#000" stroke-width="2"/>
<line x1="108.6" y1="187" x2="165" y2="135.3" stroke="#000" stroke-width="2"/>
<line x1="563.7" y1="86.3" x2="457.9" y2="156.9" stroke="#000" stroke-width="2"/>
<line x1="550.3" y1="201" x2="438" y2="272.8" stroke="#000" stroke-width="3.6"/>
<line x1="544.7" y1="283.8" x2="450.8" y2="362.2" stroke="#000" stroke-width="2"/>
<line x1="128.7" y1="379.4" x2="253.3" y2="423.9" stroke="#000" stroke-width="2"/>
<line x1="553" y1="355" x2="477.4" y2="430.2" stroke="#000" stroke-width="2"/>
<line x1="573.9" y1="413.5" x2="494.7" y2="504.3" stroke="#000" stroke-width="2"/>
<line x1="619" y1="478.4" x2="527.7" y2="580" stroke="#000" stroke-width="2"/>
<line x1="660.2" y1="548.7" x2="598" y2="662.2" stroke="#000" stroke-width="2"/>
<line x1="741.4" y1="622.3" x2="665.7" y2="685.5" stroke="#000" stroke-width="2"/>
<line x1="769.8" y1="790.9" x2="676.6" y2="844.4" stroke="#000" stroke-width="2"/>
<line x1="584" y1="916.6" x2="561.7" y2="986.7" stroke="#000" stroke-width="2"/>
<line x1="789.8" y1="945.8" x2="722.8" y2="1025.4" stroke="#000" stroke-width="2"/>
<line x1="875" y1="960.7" x2="809.2" y2="1039.4" stroke="#000" stroke-width="2"/>
<line x1="925.2" y1="1124" x2="855" y2="1207.7" stroke="#000" stroke-width="2"/>
<circle cx="248.2" cy="41.9" r="42.3" fill="#ff5500"/>
<text class="g" x="302.5" y="54.6">KNF</text>
<circle cx="495.9" cy="55.3" r="42.3" fill="#ff5500"/>
<text class="g" x="386.5" y="68">SHF</text>
<circle cx="75.4" cy="145.2" r="27" fill="#ff5500"/>
<text class="g" x="46" y="200.5">SRF</text>
<circle cx="656.3" cy="86.3" r="19.7" fill="#ff5500"/>
<text class="g" x="565" y="97.7">MDF</text>
<circle cx="632.2" cy="185.3" r="19.6" fill="#ff5500"/>
<text class="g" x="550" y="196.7">LNF</text>
<circle cx="576.9" cy="249.5" r="19.6" fill="#ff5500"/>
<text class="g" x="550" y="295.7">PNF</text>
<circle cx="99" cy="407.9" r="19.7" fill="#ff5500"/>
<text class="g" x="73.5" y="380">MNF</text>
<circle cx="632.2" cy="342.6" r="11.9" fill="#ff5500"/>
<text class="g" x="556.5" y="354.6">TNF</text>
<circle cx="656.9" cy="400.5" r="11.9" fill="#ff5500"/>
<text class="g" x="579" y="410.4">ENF</text>
<circle cx="711.9" cy="463.7" r="27.2" fill="#ff5500"/>
<text class="g" x="622" y="474.6">STF</text>
<circle cx="776.1" cy="546.2" r="42.3" fill="#ff5500"/>
<text class="g" x="665" y="557.6">SNF</text>
<circle cx="799.7" cy="622.3" r="4.3" fill="#ff5500"/>
<text class="g" x="745.5" y="632.5">INF</text>
<circle cx="869.5" cy="783.2" r="27" fill="#ff5500"/>
<text class="g" x="776.5" y="795">SQF</text>
<circle cx="606.9" cy="899.5" r="11.9" fill="#ff5500"/>
<text class="g" x="536" y="910.2">LPF</text>
<circle cx="855" cy="929.5" r="4.3" fill="#ff5500"/>
<text class="g" x="790" y="939.2">ANF</text>
<circle cx="941.2" cy="943.8" r="4.3" fill="#ff5500"/>
<text class="g" x="874" y="954.4">BDF</text>
<circle cx="993.3" cy="1106" r="4.3" fill="#ff5500"/>
<text class="g" x="924.5" y="1116">CNF</text>
<text x="717" y="136.5" font-size="31" font-weight="bold">N</text>
<path d="M728.2 148.5 L752.8 208.6 L728.2 195 L706.3 208.6 Z" fill="#000"/>
<rect x="643.1" y="258.9" width="87.6" height="13.9" fill="#000"/>
<rect x="730.7" y="259.7" width="85.2" height="12.3" fill="#fff" stroke="#000" stroke-width="1.6"/>
<text x="822" y="271.6" font-size="29.6">km</text>
<text x="643.6" y="306.3" font-size="29" text-anchor="middle">0</text>
<text x="730.7" y="306.3" font-size="29" text-anchor="middle">100</text>
<text x="816" y="306.3" font-size="29" text-anchor="middle">200</text>
<defs>
<linearGradient id="cb" x1="0" y1="0" x2="0" y2="1">
<stop offset="0" stop-color="#b27b8b"/><stop offset="0.12" stop-color="#c0606f"/><stop offset="0.27" stop-color="#d64e5b"/>
<stop offset="0.42" stop-color="#ec5e4e"/><stop offset="0.6" stop-color="#f58c6e"/><stop offset="0.78" stop-color="#fbc4b0"/>
<stop offset="0.92" stop-color="#fee9e1"/><stop offset="1" stop-color="#fff7f3"/>
</linearGradient>
<linearGradient id="cbw" x1="0" y1="0" x2="1" y2="0">
<stop offset="0" stop-color="#fff" stop-opacity="0.12"/><stop offset="0.45" stop-color="#fff" stop-opacity="0"/><stop offset="1" stop-color="#fff" stop-opacity="0.5"/>
</linearGradient></defs>
<rect x="27.4" y="643.1" width="29.7" height="152.3" fill="url(#cb)"/>
<rect x="27.4" y="643.1" width="29.7" height="152.3" fill="url(#cbw)"/>
<text class="lg" x="1" y="556.3">Percentage of</text>
<text class="lg" x="1" y="590.6">tree mortality</text>
<text class="lg" x="1" y="626.6">(2020/2011)</text>
<text x="72" y="673.6" font-size="26.7">&gt; 50%</text>
<text x="72" y="789" font-size="26.7">0</text>
<text class="lg" x="0" y="831.5">Dead tree count</text>
<circle cx="42.4" cy="865.7" r="4.4" fill="#ff5500"/>
<text class="lg" x="95.8" y="875.4">&lt;= 1,500,000</text>
<circle cx="42.4" cy="909" r="12" fill="#ff5500"/>
<text class="lg" x="95.5" y="919.5">1,500,000 - 2,500,000</text>
<circle cx="42.4" cy="956.4" r="19.6" fill="#ff5500"/>
<text class="lg" x="95.5" y="966.4">2,500,000 - 4,000,000</text>
<circle cx="42.4" cy="1013.6" r="27.2" fill="#ff5500"/>
<text class="lg" x="95.5" y="1023.6">4,000,000 - 5,500,000</text>
<circle cx="42.4" cy="1094" r="42.5" fill="#ff5500"/>
<text class="lg" x="95.5" y="1103.8">&gt;5,500,000</text>
<rect x="19.2" y="1159.6" width="50.3" height="23.7" fill="#ccc" stroke="#6e6e6e" stroke-width="1.3"/>
<text class="lg" x="80.5" y="1181">California</text>
<rect x="18.6" y="1212.8" width="50.1" height="24.1" fill="#fff" stroke="#267300" stroke-width="1.3"/>
<text class="lg" x="79.5" y="1234.9">Administrative forest</text>
<text x="903.5" y="69.6" font-size="32" font-weight="bold">b</text>
<text x="1270.5" y="73" font-size="34">Number of dead trees</text>
<text x="1714.5" y="73" font-size="34">Area (<tspan font-style="italic">m</tspan><tspan font-size="23.5" dy="-24" dx="1.5">2</tspan><tspan dy="24" dx="1">)</tspan></text>
<rect x="1275.9" y="118.1" width="673.0" height="23.7" fill="#cd59ae"/>
<rect x="1429" y="147.8" width="430.2" height="23.7" fill="#4dc43f"/>
<rect x="1559" y="177.6" width="111.0" height="23.7" fill="#2b2bd6"/>
<rect x="1575.5" y="207.4" width="83.3" height="23.7" fill="#1a72e4"/>
<rect x="1578.6" y="237.2" width="93.4" height="23.7" fill="#00a352"/>
<rect x="1582" y="267.0" width="103.0" height="23.7" fill="#1b52e4"/>
<rect x="1595.4" y="296.8" width="51.1" height="23.7" fill="#9947ee"/>
<rect x="1600.8" y="326.6" width="45.7" height="23.7" fill="#1490e4"/>
<rect x="1601.2" y="356.3" width="43.2" height="23.7" fill="#b06ee6"/>
<rect x="1603.5" y="386.1" width="27.1" height="23.7" fill="#3d1fc0"/>
<rect x="1611.4" y="415.9" width="1.6" height="23.7" fill="#999"/>
<rect x="1611.8" y="445.7" width="1.8" height="23.7" fill="#008f4b"/>
<rect x="1612" y="475.5" width="0.8" height="23.7" fill="#00763e"/>
<rect x="1612" y="505.3" width="0.6" height="23.7" fill="#c9b23a"/>
<rect x="1612" y="535.1" width="0.8" height="23.7" fill="#f9c13c"/>
<rect x="1612" y="564.8" width="0.6" height="23.7" fill="#96d543"/>
<line x1="1612.2" y1="93.1" x2="1612.2" y2="643.3" stroke="#000" stroke-width="1.3"/>
<rect class="ax" x="1259.2" y="93.1" width="706.7" height="550.1999999999999"/>
<line class="ax" x1="1251.7" y1="129.9" x2="1259.2" y2="129.9"/>
<line class="ax" x1="1965.9" y1="129.9" x2="1973.4" y2="129.9"/>
<text class="bt" x="1244.5" y="139.9" text-anchor="end">370 California mixed conifer</text>
<line class="ax" x1="1251.7" y1="159.7" x2="1259.2" y2="159.7"/>
<line class="ax" x1="1965.9" y1="159.7" x2="1973.4" y2="159.7"/>
<text class="bt" x="1244.5" y="169.7" text-anchor="end">920 Western oak</text>
<line class="ax" x1="1251.7" y1="189.5" x2="1259.2" y2="189.5"/>
<line class="ax" x1="1965.9" y1="189.5" x2="1973.4" y2="189.5"/>
<text class="bt" x="1244.5" y="199.5" text-anchor="end">260 Fir / spruce / mountain hemlock</text>
<line class="ax" x1="1251.7" y1="219.3" x2="1259.2" y2="219.3"/>
<line class="ax" x1="1965.9" y1="219.3" x2="1973.4" y2="219.3"/>
<text class="bt" x="1244.5" y="229.3" text-anchor="end">200 Douglas-fir</text>
<line class="ax" x1="1251.7" y1="249.0" x2="1259.2" y2="249.0"/>
<line class="ax" x1="1965.9" y1="249.0" x2="1973.4" y2="249.0"/>
<text class="bt" x="1244.5" y="259.0" text-anchor="end">940 Tanoak / laurel</text>
<line class="ax" x1="1251.7" y1="278.8" x2="1259.2" y2="278.8"/>
<line class="ax" x1="1965.9" y1="278.8" x2="1973.4" y2="278.8"/>
<text class="bt" x="1244.5" y="288.8" text-anchor="end">220 Ponderosa pine</text>
<line class="ax" x1="1251.7" y1="308.6" x2="1259.2" y2="308.6"/>
<line class="ax" x1="1965.9" y1="308.6" x2="1973.4" y2="308.6"/>
<text class="bt" x="1244.5" y="318.6" text-anchor="end">340 Redwood</text>
<line class="ax" x1="1251.7" y1="338.4" x2="1259.2" y2="338.4"/>
<line class="ax" x1="1965.9" y1="338.4" x2="1973.4" y2="338.4"/>
<text class="bt" x="1244.5" y="348.4" text-anchor="end">180 Pinyon / juniper</text>
<line class="ax" x1="1251.7" y1="368.2" x2="1259.2" y2="368.2"/>
<line class="ax" x1="1965.9" y1="368.2" x2="1973.4" y2="368.2"/>
<text class="bt" x="1244.5" y="378.2" text-anchor="end">360 Other western softwoods</text>
<line class="ax" x1="1251.7" y1="398.0" x2="1259.2" y2="398.0"/>
<line class="ax" x1="1965.9" y1="398.0" x2="1973.4" y2="398.0"/>
<text class="bt" x="1244.5" y="408.0" text-anchor="end">280 Lodgepole pine</text>
<line class="ax" x1="1251.7" y1="427.8" x2="1259.2" y2="427.8"/>
<line class="ax" x1="1965.9" y1="427.8" x2="1973.4" y2="427.8"/>
<text class="bt" x="1244.5" y="437.8" text-anchor="end">999 Nonstocked</text>
<line class="ax" x1="1251.7" y1="457.5" x2="1259.2" y2="457.5"/>
<line class="ax" x1="1965.9" y1="457.5" x2="1973.4" y2="457.5"/>
<text class="bt" x="1244.5" y="467.5" text-anchor="end">960 Other hardwoods</text>
<line class="ax" x1="1251.7" y1="487.3" x2="1259.2" y2="487.3"/>
<line class="ax" x1="1965.9" y1="487.3" x2="1973.4" y2="487.3"/>
<text class="bt" x="1244.5" y="497.3" text-anchor="end">970 Woodland hardwoods</text>
<line class="ax" x1="1251.7" y1="517.1" x2="1259.2" y2="517.1"/>
<line class="ax" x1="1965.9" y1="517.1" x2="1973.4" y2="517.1"/>
<text class="bt" x="1244.5" y="527.1" text-anchor="end">900 Aspen / birch</text>
<line class="ax" x1="1251.7" y1="546.9" x2="1259.2" y2="546.9"/>
<line class="ax" x1="1965.9" y1="546.9" x2="1973.4" y2="546.9"/>
<text class="bt" x="1244.5" y="556.9" text-anchor="end">700 Elm / ash / cottonwood</text>
<line class="ax" x1="1251.7" y1="576.7" x2="1259.2" y2="576.7"/>
<line class="ax" x1="1965.9" y1="576.7" x2="1973.4" y2="576.7"/>
<text class="bt" x="1244.5" y="586.7" text-anchor="end">910 Alder / maple</text>
<line class="ax" x1="1251.7" y1="606.5" x2="1259.2" y2="606.5"/>
<line class="ax" x1="1965.9" y1="606.5" x2="1973.4" y2="606.5"/>
<text class="bt" x="1244.5" y="616.5" text-anchor="end">300 Hemlock / Sitka spruce</text>
<line class="ax" x1="1316.8" y1="643.3" x2="1316.8" y2="650.8"/>
<text class="bt" x="1316.8" y="678" text-anchor="middle">3</text>
<line class="ax" x1="1415" y1="643.3" x2="1415" y2="650.8"/>
<text class="bt" x="1415" y="678" text-anchor="middle">2</text>
<line class="ax" x1="1513.6" y1="643.3" x2="1513.6" y2="650.8"/>
<text class="bt" x="1513.6" y="678" text-anchor="middle">1</text>
<line class="ax" x1="1612.2" y1="643.3" x2="1612.2" y2="650.8"/>
<text class="bt" x="1612.2" y="678" text-anchor="middle">0</text>
<line class="ax" x1="1700.7" y1="643.3" x2="1700.7" y2="650.8"/>
<text class="bt" x="1700.7" y="678" text-anchor="middle">1</text>
<line class="ax" x1="1789.2" y1="643.3" x2="1789.2" y2="650.8"/>
<text class="bt" x="1789.2" y="678" text-anchor="middle">2</text>
<line class="ax" x1="1878.2" y1="643.3" x2="1878.2" y2="650.8"/>
<text class="bt" x="1878.2" y="678" text-anchor="middle">3</text>
<text x="1242.2" y="678" font-size="27.7">1e7</text>
<text x="1971.8" y="678" font-size="27.7" text-anchor="end">1e10</text>
<rect x="1285.4" y="406.5" width="303.0" height="219.9" fill="#fff"/>
<rect x="1291.3" y="415.6" width="290.9" height="25" fill="#cfcfcf"/>
<rect x="1292.3" y="416.4" width="288.9" height="23.5" fill="#999999"/>
<rect x="1296.3" y="445.8" width="279.8" height="23.5" fill="#008f4b"/>
<rect x="1415" y="475.3" width="45.7" height="23.5" fill="#00763e"/>
<rect x="1432.5" y="504.8" width="8.3" height="23.5" fill="#ceff2f"/>
<rect x="1434.5" y="534.2" width="25.4" height="23.5" fill="#f9c13c"/>
<rect x="1435" y="563.7" width="4.6" height="23.5" fill="#96d543"/>
<rect x="1436.3" y="593.2" width="1.2" height="23.5" fill="#6600ee"/>
<line x1="1436.8" y1="406.5" x2="1436.8" y2="626.4" stroke="#000" stroke-width="1.3"/>
<rect class="ax" x="1285.4" y="406.5" width="303.0" height="219.9" stroke-width="1.8"/>
<line class="ax" x1="1278.1000000000001" y1="428.1" x2="1285.4" y2="428.1"/>
<line class="ax" x1="1588.4" y1="428.1" x2="1595.7" y2="428.1"/>
<line class="ax" x1="1278.1000000000001" y1="457.6" x2="1285.4" y2="457.6"/>
<line class="ax" x1="1588.4" y1="457.6" x2="1595.7" y2="457.6"/>
<line class="ax" x1="1278.1000000000001" y1="487.0" x2="1285.4" y2="487.0"/>
<line class="ax" x1="1588.4" y1="487.0" x2="1595.7" y2="487.0"/>
<line class="ax" x1="1278.1000000000001" y1="516.5" x2="1285.4" y2="516.5"/>
<line class="ax" x1="1588.4" y1="516.5" x2="1595.7" y2="516.5"/>
<line class="ax" x1="1278.1000000000001" y1="546.0" x2="1285.4" y2="546.0"/>
<line class="ax" x1="1588.4" y1="546.0" x2="1595.7" y2="546.0"/>
<line class="ax" x1="1278.1000000000001" y1="575.5" x2="1285.4" y2="575.5"/>
<line class="ax" x1="1588.4" y1="575.5" x2="1595.7" y2="575.5"/>
<line class="ax" x1="1278.1000000000001" y1="604.9" x2="1285.4" y2="604.9"/>
<line class="ax" x1="1588.4" y1="604.9" x2="1595.7" y2="604.9"/>
<line class="ax" x1="1349.4" y1="626.4" x2="1349.4" y2="619.4"/>
<text x="1349.4" y="593" text-anchor="middle" font-size="26" fill="#4d4d4d">5</text>
<line class="ax" x1="1436.8" y1="626.4" x2="1436.8" y2="619.4"/>
<text x="1436.8" y="593" text-anchor="middle" font-size="26" fill="#4d4d4d">0</text>
<line class="ax" x1="1527.8" y1="626.4" x2="1527.8" y2="619.4"/>
<text x="1527.8" y="593" text-anchor="middle" font-size="26" fill="#4d4d4d">1</text>
<text x="1289.5" y="617.5" font-size="26">1e4</text>
<text x="1583.5" y="617.5" font-size="26" text-anchor="end">1e8</text>
<text x="1102" y="739.2" font-size="32" font-weight="bold">c</text>
<clipPath id="cc"><rect x="1262" y="724.5" width="701.5" height="435.4000000000001"/></clipPath>
<g clip-path="url(#cc)">
<line x1="1282.2" y1="1034.7" x2="1282.2" y2="884.1" stroke="#262626" stroke-width="3"/>
<line x1="1272.5" y1="884.1" x2="1291.9" y2="884.1" stroke="#262626" stroke-width="3"/>
<line x1="1282.2" y1="1136.5" x2="1282.2" y2="1143.3" stroke="#262626" stroke-width="3"/>
<line x1="1272.5" y1="1143.3" x2="1291.9" y2="1143.3" stroke="#262626" stroke-width="3"/>
<path d="M1265.7 1136.5 L1265.7 1110.7 L1274.0 1108.4 L1265.7 1106.0 L1265.7 1034.7 L1298.7 1034.7 L1298.7 1106.0 L1290.5 1108.4 L1298.7 1110.7 L1298.7 1136.5 Z" fill="#2e8cd4" stroke="#262626" stroke-width="3" stroke-linejoin="miter"/>
<line x1="1274.2" y1="1108.4" x2="1290.2" y2="1108.4" stroke="#fff" stroke-width="3.5"/>
<line x1="1323.5" y1="1065.3" x2="1323.5" y2="961.1" stroke="#262626" stroke-width="3"/>
<line x1="1313.8" y1="961.1" x2="1333.2" y2="961.1" stroke="#262626" stroke-width="3"/>
<line x1="1323.5" y1="1136.5" x2="1323.5" y2="1143.3" stroke="#262626" stroke-width="3"/>
<line x1="1313.8" y1="1143.3" x2="1333.2" y2="1143.3" stroke="#262626" stroke-width="3"/>
<path d="M1307.0 1136.5 L1307.0 1120.9 L1315.2 1119.2 L1307.0 1117.5 L1307.0 1065.3 L1340.0 1065.3 L1340.0 1117.5 L1331.7 1119.2 L1340.0 1120.9 L1340.0 1136.5 Z" fill="#3474d3" stroke="#262626" stroke-width="3" stroke-linejoin="miter"/>
<line x1="1315.5" y1="1119.2" x2="1331.4" y2="1119.2" stroke="#fff" stroke-width="3.5"/>
<line x1="1364.8" y1="1092.4" x2="1364.8" y2="1027.6" stroke="#262626" stroke-width="3"/>
<line x1="1355.1" y1="1027.6" x2="1374.5" y2="1027.6" stroke="#262626" stroke-width="3"/>
<line x1="1364.8" y1="1137.9" x2="1364.8" y2="1143.3" stroke="#262626" stroke-width="3"/>
<line x1="1355.1" y1="1143.3" x2="1374.5" y2="1143.3" stroke="#262626" stroke-width="3"/>
<path d="M1348.3 1137.9 L1348.3 1125.3 L1356.5 1124.0 L1348.3 1122.6 L1348.3 1092.4 L1381.3 1092.4 L1381.3 1122.6 L1373.0 1124.0 L1381.3 1125.3 L1381.3 1137.9 Z" fill="#3862d2" stroke="#262626" stroke-width="3" stroke-linejoin="miter"/>
<line x1="1356.8" y1="1124.0" x2="1372.7" y2="1124.0" stroke="#fff" stroke-width="3.5"/>
<line x1="1406.0" y1="1001.1" x2="1406.0" y2="819.3" stroke="#262626" stroke-width="3"/>
<line x1="1396.3" y1="819.3" x2="1415.7" y2="819.3" stroke="#262626" stroke-width="3"/>
<line x1="1406.0" y1="1124.3" x2="1406.0" y2="1143.3" stroke="#262626" stroke-width="3"/>
<line x1="1396.3" y1="1143.3" x2="1415.7" y2="1143.3" stroke="#262626" stroke-width="3"/>
<path d="M1389.5 1124.3 L1389.5 1088.7 L1397.8 1086.6 L1389.5 1084.6 L1389.5 1001.1 L1422.5 1001.1 L1422.5 1084.6 L1414.3 1086.6 L1422.5 1088.7 L1422.5 1124.3 Z" fill="#4040c4" stroke="#262626" stroke-width="3" stroke-linejoin="miter"/>
<line x1="1398.1" y1="1086.6" x2="1414.0" y2="1086.6" stroke="#fff" stroke-width="3.5"/>
<line x1="1447.3" y1="1037.1" x2="1447.3" y2="894.3" stroke="#262626" stroke-width="3"/>
<line x1="1437.6" y1="894.3" x2="1457.0" y2="894.3" stroke="#262626" stroke-width="3"/>
<line x1="1447.3" y1="1134.1" x2="1447.3" y2="1143.3" stroke="#262626" stroke-width="3"/>
<line x1="1437.6" y1="1143.3" x2="1457.0" y2="1143.3" stroke="#262626" stroke-width="3"/>
<path d="M1430.8 1134.1 L1430.8 1106.3 L1439.1 1104.3 L1430.8 1102.2 L1430.8 1037.1 L1463.8 1037.1 L1463.8 1102.2 L1455.6 1104.3 L1463.8 1106.3 L1463.8 1134.1 Z" fill="#4a32b0" stroke="#262626" stroke-width="3" stroke-linejoin="miter"/>
<line x1="1439.4" y1="1104.3" x2="1455.3" y2="1104.3" stroke="#fff" stroke-width="3.5"/>
<line x1="1488.6" y1="1083.9" x2="1488.6" y2="1045.2" stroke="#262626" stroke-width="3"/>
<line x1="1478.9" y1="1045.2" x2="1498.3" y2="1045.2" stroke="#262626" stroke-width="3"/>
<line x1="1488.6" y1="1130.7" x2="1488.6" y2="1137.5" stroke="#262626" stroke-width="3"/>
<line x1="1478.9" y1="1137.5" x2="1498.3" y2="1137.5" stroke="#262626" stroke-width="3"/>
<path d="M1472.1 1130.7 L1472.1 1177.2 L1480.4 1123.6 L1472.1 1082.2 L1472.1 1083.9 L1505.1 1083.9 L1505.1 1082.2 L1496.9 1123.6 L1505.1 1177.2 L1505.1 1130.7 Z" fill="#6a1ee0" stroke="#262626" stroke-width="3" stroke-linejoin="miter"/>
<line x1="1480.7" y1="1123.6" x2="1496.6" y2="1123.6" stroke="#fff" stroke-width="3.5"/>
<line x1="1529.9" y1="1086.0" x2="1529.9" y2="1011.0" stroke="#262626" stroke-width="3"/>
<line x1="1520.2" y1="1011.0" x2="1539.6" y2="1011.0" stroke="#262626" stroke-width="3"/>
<line x1="1529.9" y1="1137.9" x2="1529.9" y2="1143.3" stroke="#262626" stroke-width="3"/>
<line x1="1520.2" y1="1143.3" x2="1539.6" y2="1143.3" stroke="#262626" stroke-width="3"/>
<path d="M1513.4 1137.9 L1513.4 1126.3 L1521.6 1124.6 L1513.4 1122.9 L1513.4 1086.0 L1546.4 1086.0 L1546.4 1122.9 L1538.1 1124.6 L1546.4 1126.3 L1546.4 1137.9 Z" fill="#9b5ede" stroke="#262626" stroke-width="3" stroke-linejoin="miter"/>
<line x1="1521.9" y1="1124.6" x2="1537.8" y2="1124.6" stroke="#fff" stroke-width="3.5"/>
<line x1="1571.2" y1="1075.4" x2="1571.2" y2="979.8" stroke="#262626" stroke-width="3"/>
<line x1="1561.5" y1="979.8" x2="1580.9" y2="979.8" stroke="#262626" stroke-width="3"/>
<line x1="1571.2" y1="1138.9" x2="1571.2" y2="1143.3" stroke="#262626" stroke-width="3"/>
<line x1="1561.5" y1="1143.3" x2="1580.9" y2="1143.3" stroke="#262626" stroke-width="3"/>
<path d="M1554.7 1138.9 L1554.7 1125.3 L1562.9 1123.6 L1554.7 1121.9 L1554.7 1075.4 L1587.7 1075.4 L1587.7 1121.9 L1579.4 1123.6 L1587.7 1125.3 L1587.7 1138.9 Z" fill="#ae7add" stroke="#262626" stroke-width="3" stroke-linejoin="miter"/>
<line x1="1563.2" y1="1123.6" x2="1579.1" y2="1123.6" stroke="#fff" stroke-width="3.5"/>
<line x1="1612.4" y1="999.1" x2="1612.4" y2="813.2" stroke="#262626" stroke-width="3"/>
<line x1="1602.7" y1="813.2" x2="1622.1" y2="813.2" stroke="#262626" stroke-width="3"/>
<line x1="1612.4" y1="1124.3" x2="1612.4" y2="1143.3" stroke="#262626" stroke-width="3"/>
<line x1="1602.7" y1="1143.3" x2="1622.1" y2="1143.3" stroke="#262626" stroke-width="3"/>
<path d="M1595.9 1124.3 L1595.9 1091.7 L1604.2 1090.4 L1595.9 1089.0 L1595.9 999.1 L1628.9 999.1 L1628.9 1089.0 L1620.7 1090.4 L1628.9 1091.7 L1628.9 1124.3 Z" fill="#c468aa" stroke="#262626" stroke-width="3" stroke-linejoin="miter"/>
<line x1="1604.5" y1="1090.4" x2="1620.4" y2="1090.4" stroke="#fff" stroke-width="3.5"/>
<line x1="1653.7" y1="1082.2" x2="1653.7" y2="1005.5" stroke="#262626" stroke-width="3"/>
<line x1="1644.0" y1="1005.5" x2="1663.4" y2="1005.5" stroke="#262626" stroke-width="3"/>
<line x1="1653.7" y1="1140.2" x2="1653.7" y2="1143.3" stroke="#262626" stroke-width="3"/>
<line x1="1644.0" y1="1143.3" x2="1663.4" y2="1143.3" stroke="#262626" stroke-width="3"/>
<path d="M1637.2 1140.2 L1637.2 1170.4 L1645.5 1130.1 L1637.2 1098.5 L1637.2 1082.2 L1670.2 1082.2 L1670.2 1098.5 L1662.0 1130.1 L1670.2 1170.4 L1670.2 1140.2 Z" fill="#e4b852" stroke="#262626" stroke-width="3" stroke-linejoin="miter"/>
<line x1="1645.8" y1="1130.1" x2="1661.7" y2="1130.1" stroke="#fff" stroke-width="3.5"/>
<line x1="1695.0" y1="1011.0" x2="1695.0" y2="862.0" stroke="#262626" stroke-width="3"/>
<line x1="1685.3" y1="862.0" x2="1704.7" y2="862.0" stroke="#262626" stroke-width="3"/>
<line x1="1695.0" y1="1140.2" x2="1695.0" y2="1143.3" stroke="#262626" stroke-width="3"/>
<line x1="1685.3" y1="1143.3" x2="1704.7" y2="1143.3" stroke="#262626" stroke-width="3"/>
<path d="M1678.5 1140.2 L1678.5 1173.8 L1686.8 1122.9 L1678.5 1079.5 L1678.5 1011.0 L1711.5 1011.0 L1711.5 1079.5 L1703.2 1122.9 L1711.5 1173.8 L1711.5 1140.2 Z" fill="#c8e64e" stroke="#262626" stroke-width="3" stroke-linejoin="miter"/>
<line x1="1687.0" y1="1122.9" x2="1703.0" y2="1122.9" stroke="#fff" stroke-width="3.5"/>
<line x1="1736.3" y1="1094.1" x2="1736.3" y2="1064.6" stroke="#262626" stroke-width="3"/>
<line x1="1726.6" y1="1064.6" x2="1746.0" y2="1064.6" stroke="#262626" stroke-width="3"/>
<line x1="1736.3" y1="1140.2" x2="1736.3" y2="1143.3" stroke="#262626" stroke-width="3"/>
<line x1="1726.6" y1="1143.3" x2="1746.0" y2="1143.3" stroke="#262626" stroke-width="3"/>
<path d="M1719.8 1140.2 L1719.8 1148.4 L1728.0 1128.7 L1719.8 1107.0 L1719.8 1094.1 L1752.8 1094.1 L1752.8 1107.0 L1744.5 1128.7 L1752.8 1148.4 L1752.8 1140.2 Z" fill="#90cc48" stroke="#262626" stroke-width="3" stroke-linejoin="miter"/>
<line x1="1728.3" y1="1128.7" x2="1744.2" y2="1128.7" stroke="#fff" stroke-width="3.5"/>
<line x1="1777.6" y1="1002.5" x2="1777.6" y2="810.1" stroke="#262626" stroke-width="3"/>
<line x1="1767.9" y1="810.1" x2="1787.3" y2="810.1" stroke="#262626" stroke-width="3"/>
<line x1="1777.6" y1="1130.7" x2="1777.6" y2="1143.3" stroke="#262626" stroke-width="3"/>
<line x1="1767.9" y1="1143.3" x2="1787.3" y2="1143.3" stroke="#262626" stroke-width="3"/>
<path d="M1761.1 1130.7 L1761.1 1101.6 L1769.3 1099.9 L1761.1 1098.2 L1761.1 1002.5 L1794.1 1002.5 L1794.1 1098.2 L1785.8 1099.9 L1794.1 1101.6 L1794.1 1130.7 Z" fill="#5cb356" stroke="#262626" stroke-width="3" stroke-linejoin="miter"/>
<line x1="1769.6" y1="1099.9" x2="1785.5" y2="1099.9" stroke="#fff" stroke-width="3.5"/>
<line x1="1818.8" y1="1097.8" x2="1818.8" y2="1037.1" stroke="#262626" stroke-width="3"/>
<line x1="1809.1" y1="1037.1" x2="1828.5" y2="1037.1" stroke="#262626" stroke-width="3"/>
<line x1="1818.8" y1="1138.5" x2="1818.8" y2="1143.3" stroke="#262626" stroke-width="3"/>
<line x1="1809.1" y1="1143.3" x2="1828.5" y2="1143.3" stroke="#262626" stroke-width="3"/>
<path d="M1802.3 1138.5 L1802.3 1130.4 L1810.6 1128.7 L1802.3 1127.0 L1802.3 1097.8 L1835.3 1097.8 L1835.3 1127.0 L1827.1 1128.7 L1835.3 1130.4 L1835.3 1138.5 Z" fill="#189654" stroke="#262626" stroke-width="3" stroke-linejoin="miter"/>
<line x1="1810.9" y1="1128.7" x2="1826.8" y2="1128.7" stroke="#fff" stroke-width="3.5"/>
<line x1="1860.1" y1="1025.2" x2="1860.1" y2="882.0" stroke="#262626" stroke-width="3"/>
<line x1="1850.4" y1="882.0" x2="1869.8" y2="882.0" stroke="#262626" stroke-width="3"/>
<line x1="1860.1" y1="1126.3" x2="1860.1" y2="1143.3" stroke="#262626" stroke-width="3"/>
<line x1="1850.4" y1="1143.3" x2="1869.8" y2="1143.3" stroke="#262626" stroke-width="3"/>
<path d="M1843.6 1126.3 L1843.6 1102.9 L1851.9 1096.8 L1843.6 1091.4 L1843.6 1025.2 L1876.6 1025.2 L1876.6 1091.4 L1868.4 1096.8 L1876.6 1102.9 L1876.6 1126.3 Z" fill="#15804a" stroke="#262626" stroke-width="3" stroke-linejoin="miter"/>
<line x1="1852.2" y1="1096.8" x2="1868.1" y2="1096.8" stroke="#fff" stroke-width="3.5"/>
<line x1="1901.4" y1="1085.3" x2="1901.4" y2="1003.2" stroke="#262626" stroke-width="3"/>
<line x1="1891.7" y1="1003.2" x2="1911.1" y2="1003.2" stroke="#262626" stroke-width="3"/>
<line x1="1901.4" y1="1143.3" x2="1901.4" y2="1143.3" stroke="#262626" stroke-width="3"/>
<line x1="1891.7" y1="1143.3" x2="1911.1" y2="1143.3" stroke="#262626" stroke-width="3"/>
<path d="M1884.9 1143.3 L1884.9 1130.1 L1893.2 1123.6 L1884.9 1116.5 L1884.9 1085.3 L1917.9 1085.3 L1917.9 1116.5 L1909.7 1123.6 L1917.9 1130.1 L1917.9 1143.3 Z" fill="#136b40" stroke="#262626" stroke-width="3" stroke-linejoin="miter"/>
<line x1="1893.5" y1="1123.6" x2="1909.4" y2="1123.6" stroke="#fff" stroke-width="3.5"/>
<line x1="1942.7" y1="974.3" x2="1942.7" y2="745.3" stroke="#262626" stroke-width="3"/>
<line x1="1933.0" y1="745.3" x2="1952.4" y2="745.3" stroke="#262626" stroke-width="3"/>
<line x1="1942.7" y1="1130.1" x2="1942.7" y2="1143.3" stroke="#262626" stroke-width="3"/>
<line x1="1933.0" y1="1143.3" x2="1952.4" y2="1143.3" stroke="#262626" stroke-width="3"/>
<path d="M1926.2 1130.1 L1926.2 1097.2 L1934.4 1087.7 L1926.2 1078.2 L1926.2 974.3 L1959.2 974.3 L1959.2 1078.2 L1950.9 1087.7 L1959.2 1097.2 L1959.2 1130.1 Z" fill="#999999" stroke="#262626" stroke-width="3" stroke-linejoin="miter"/>
<line x1="1934.7" y1="1087.7" x2="1950.6" y2="1087.7" stroke="#fff" stroke-width="3.5"/>
</g>
<rect class="ax" x="1262" y="724.5" width="701.5" height="435.4000000000001"/>
<line class="ax" x1="1254.5" y1="1143.3" x2="1262" y2="1143.3"/>
<text class="ct" x="1247.4" y="1154.3" text-anchor="end">0</text>
<line class="ax" x1="1254.5" y1="1075.4" x2="1262" y2="1075.4"/>
<text class="ct" x="1247.4" y="1086.4" text-anchor="end">2</text>
<line class="ax" x1="1254.5" y1="1007.6" x2="1262" y2="1007.6"/>
<text class="ct" x="1247.4" y="1018.6" text-anchor="end">4</text>
<line class="ax" x1="1254.5" y1="939.7" x2="1262" y2="939.7"/>
<text class="ct" x="1247.4" y="950.7" text-anchor="end">6</text>
<line class="ax" x1="1254.5" y1="871.9" x2="1262" y2="871.9"/>
<text class="ct" x="1247.4" y="882.9" text-anchor="end">8</text>
<line class="ax" x1="1254.5" y1="804.0" x2="1262" y2="804.0"/>
<text class="ct" x="1247.4" y="815.0" text-anchor="end">10</text>
<line class="ax" x1="1254.5" y1="736.1" x2="1262" y2="736.1"/>
<text class="ct" x="1247.4" y="747.1" text-anchor="end">12</text>
<line class="ax" x1="1282.2" y1="1159.9" x2="1282.2" y2="1167.4"/>
<text class="ct" text-anchor="end" transform="translate(1290.0 1174.2) rotate(-90)">180</text>
<line class="ax" x1="1323.5" y1="1159.9" x2="1323.5" y2="1167.4"/>
<text class="ct" text-anchor="end" transform="translate(1331.3 1174.2) rotate(-90)">200</text>
<line class="ax" x1="1364.8" y1="1159.9" x2="1364.8" y2="1167.4"/>
<text class="ct" text-anchor="end" transform="translate(1372.6 1174.2) rotate(-90)">220</text>
<line class="ax" x1="1406.0" y1="1159.9" x2="1406.0" y2="1167.4"/>
<text class="ct" text-anchor="end" transform="translate(1413.8 1174.2) rotate(-90)">260</text>
<line class="ax" x1="1447.3" y1="1159.9" x2="1447.3" y2="1167.4"/>
<text class="ct" text-anchor="end" transform="translate(1455.1 1174.2) rotate(-90)">280</text>
<line class="ax" x1="1488.6" y1="1159.9" x2="1488.6" y2="1167.4"/>
<text class="ct" text-anchor="end" transform="translate(1496.4 1174.2) rotate(-90)">300</text>
<line class="ax" x1="1529.9" y1="1159.9" x2="1529.9" y2="1167.4"/>
<text class="ct" text-anchor="end" transform="translate(1537.7 1174.2) rotate(-90)">340</text>
<line class="ax" x1="1571.2" y1="1159.9" x2="1571.2" y2="1167.4"/>
<text class="ct" text-anchor="end" transform="translate(1579.0 1174.2) rotate(-90)">360</text>
<line class="ax" x1="1612.4" y1="1159.9" x2="1612.4" y2="1167.4"/>
<text class="ct" text-anchor="end" transform="translate(1620.2 1174.2) rotate(-90)">370</text>
<line class="ax" x1="1653.7" y1="1159.9" x2="1653.7" y2="1167.4"/>
<text class="ct" text-anchor="end" transform="translate(1661.5 1174.2) rotate(-90)">700</text>
<line class="ax" x1="1695.0" y1="1159.9" x2="1695.0" y2="1167.4"/>
<text class="ct" text-anchor="end" transform="translate(1702.8 1174.2) rotate(-90)">900</text>
<line class="ax" x1="1736.3" y1="1159.9" x2="1736.3" y2="1167.4"/>
<text class="ct" text-anchor="end" transform="translate(1744.1 1174.2) rotate(-90)">910</text>
<line class="ax" x1="1777.6" y1="1159.9" x2="1777.6" y2="1167.4"/>
<text class="ct" text-anchor="end" transform="translate(1785.4 1174.2) rotate(-90)">920</text>
<line class="ax" x1="1818.8" y1="1159.9" x2="1818.8" y2="1167.4"/>
<text class="ct" text-anchor="end" transform="translate(1826.6 1174.2) rotate(-90)">940</text>
<line class="ax" x1="1860.1" y1="1159.9" x2="1860.1" y2="1167.4"/>
<text class="ct" text-anchor="end" transform="translate(1867.9 1174.2) rotate(-90)">960</text>
<line class="ax" x1="1901.4" y1="1159.9" x2="1901.4" y2="1167.4"/>
<text class="ct" text-anchor="end" transform="translate(1909.2 1174.2) rotate(-90)">970</text>
<line class="ax" x1="1942.7" y1="1159.9" x2="1942.7" y2="1167.4"/>
<text class="ct" text-anchor="end" transform="translate(1950.5 1174.2) rotate(-90)">999</text>
<text font-size="29.8" transform="translate(1199.2 1152.3) rotate(-90)">Percentage of tree mortality (%)</text>
<text font-size="29.9" x="1495.4" y="1254.4">Forest type group</text>
</svg></body></html>
